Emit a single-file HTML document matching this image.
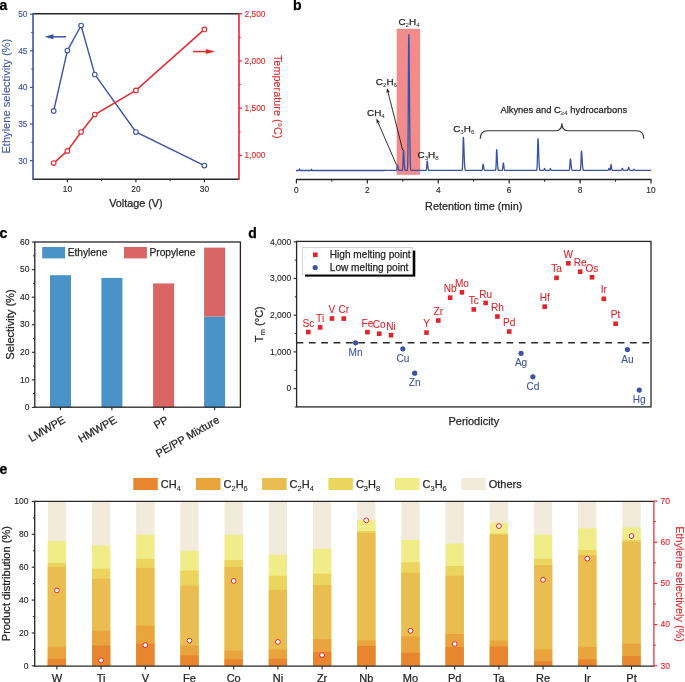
<!DOCTYPE html>
<html><head><meta charset="utf-8"><style>
html,body{margin:0;padding:0;background:#fff;width:685px;height:682px;overflow:hidden}
svg{display:block;will-change:transform;font-family:"Liberation Sans", sans-serif}
</style></head><body>
<svg width="685" height="682" viewBox="0 0 685 682">
<rect width="685" height="682" fill="#fff"/>
<text x="-0.5" y="9.9" font-size="14" font-weight="bold" fill="#000" stroke="#000" stroke-width="0.25">a</text>
<line x1="33" y1="13.8" x2="239" y2="13.8" stroke="#262626" stroke-width="1.5" />
<line x1="33" y1="179.3" x2="239" y2="179.3" stroke="#262626" stroke-width="1.5" />
<line x1="33" y1="13.05" x2="33" y2="180.05" stroke="#3c54a4" stroke-width="1.6" />
<line x1="239" y1="13.05" x2="239" y2="180.05" stroke="#e8262b" stroke-width="1.6" />
<line x1="30" y1="160.6" x2="33" y2="160.6" stroke="#3c54a4" stroke-width="1.2" />
<text transform="translate(27.5,163.6) scale(0.95,1.1)" font-size="8.8" fill="#3c54a4" stroke="#3c54a4" stroke-width="0.12" text-anchor="end">30</text>
<line x1="30" y1="124" x2="33" y2="124" stroke="#3c54a4" stroke-width="1.2" />
<text transform="translate(27.5,127) scale(0.95,1.1)" font-size="8.8" fill="#3c54a4" stroke="#3c54a4" stroke-width="0.12" text-anchor="end">35</text>
<line x1="30" y1="87.4" x2="33" y2="87.4" stroke="#3c54a4" stroke-width="1.2" />
<text transform="translate(27.5,90.4) scale(0.95,1.1)" font-size="8.8" fill="#3c54a4" stroke="#3c54a4" stroke-width="0.12" text-anchor="end">40</text>
<line x1="30" y1="50.8" x2="33" y2="50.8" stroke="#3c54a4" stroke-width="1.2" />
<text transform="translate(27.5,53.8) scale(0.95,1.1)" font-size="8.8" fill="#3c54a4" stroke="#3c54a4" stroke-width="0.12" text-anchor="end">45</text>
<line x1="30" y1="14.2" x2="33" y2="14.2" stroke="#3c54a4" stroke-width="1.2" />
<text transform="translate(27.5,17.2) scale(0.95,1.1)" font-size="8.8" fill="#3c54a4" stroke="#3c54a4" stroke-width="0.12" text-anchor="end">50</text>
<line x1="31.2" y1="142.3" x2="33" y2="142.3" stroke="#3c54a4" stroke-width="1" />
<line x1="31.2" y1="105.7" x2="33" y2="105.7" stroke="#3c54a4" stroke-width="1" />
<line x1="31.2" y1="69.1" x2="33" y2="69.1" stroke="#3c54a4" stroke-width="1" />
<line x1="31.2" y1="32.5" x2="33" y2="32.5" stroke="#3c54a4" stroke-width="1" />
<line x1="239" y1="155.45" x2="242" y2="155.45" stroke="#e8262b" stroke-width="1.2" />
<text transform="translate(244.6,158.45) scale(0.95,1.1)" font-size="8.8" fill="#e8262b" stroke="#e8262b" stroke-width="0.12" text-anchor="start">1,000</text>
<line x1="239" y1="108.2" x2="242" y2="108.2" stroke="#e8262b" stroke-width="1.2" />
<text transform="translate(244.6,111.2) scale(0.95,1.1)" font-size="8.8" fill="#e8262b" stroke="#e8262b" stroke-width="0.12" text-anchor="start">1,500</text>
<line x1="239" y1="60.95" x2="242" y2="60.95" stroke="#e8262b" stroke-width="1.2" />
<text transform="translate(244.6,63.95) scale(0.95,1.1)" font-size="8.8" fill="#e8262b" stroke="#e8262b" stroke-width="0.12" text-anchor="start">2,000</text>
<line x1="239" y1="13.7" x2="242" y2="13.7" stroke="#e8262b" stroke-width="1.2" />
<text transform="translate(244.6,16.7) scale(0.95,1.1)" font-size="8.8" fill="#e8262b" stroke="#e8262b" stroke-width="0.12" text-anchor="start">2,500</text>
<line x1="239" y1="131.82" x2="240.8" y2="131.82" stroke="#e8262b" stroke-width="1" />
<line x1="239" y1="84.58" x2="240.8" y2="84.58" stroke="#e8262b" stroke-width="1" />
<line x1="239" y1="37.33" x2="240.8" y2="37.33" stroke="#e8262b" stroke-width="1" />
<line x1="67.4" y1="179.3" x2="67.4" y2="182.3" stroke="#262626" stroke-width="1.2" />
<text transform="translate(67.4,191.5) scale(0.95,1.1)" font-size="8.8" fill="#262626" stroke="#262626" stroke-width="0.12" text-anchor="middle">10</text>
<line x1="135.9" y1="179.3" x2="135.9" y2="182.3" stroke="#262626" stroke-width="1.2" />
<text transform="translate(135.9,191.5) scale(0.95,1.1)" font-size="8.8" fill="#262626" stroke="#262626" stroke-width="0.12" text-anchor="middle">20</text>
<line x1="204.4" y1="179.3" x2="204.4" y2="182.3" stroke="#262626" stroke-width="1.2" />
<text transform="translate(204.4,191.5) scale(0.95,1.1)" font-size="8.8" fill="#262626" stroke="#262626" stroke-width="0.12" text-anchor="middle">30</text>
<line x1="101.65" y1="179.3" x2="101.65" y2="181.1" stroke="#262626" stroke-width="1" />
<line x1="170.15" y1="179.3" x2="170.15" y2="181.1" stroke="#262626" stroke-width="1" />
<text x="135.9" y="207.1" font-size="10.8" fill="#262626" stroke="#262626" stroke-width="0.25" text-anchor="middle" >Voltage (V)</text>
<text transform="translate(10.0,96.2) rotate(-90)" font-size="11.1" fill="#3c54a4" stroke="#3c54a4" stroke-width="0.08" text-anchor="middle">Ethylene selectivity (%)</text>
<text transform="translate(273.8,96.7) rotate(90)" font-size="10.9" fill="#e8262b" stroke="#e8262b" stroke-width="0.08" text-anchor="middle">Temperature (°C)</text>
<polyline points="53.7,110.9 67.4,50.6 81.1,25.5 94.8,74.5 135.9,132 204.4,165.6" fill="none" stroke="#3c54a4" stroke-width="1.4"/>
<polyline points="53.7,163.1 67.4,150.9 81.1,132 94.8,114.5 135.9,90.4 204.4,29.4" fill="none" stroke="#e8262b" stroke-width="1.45"/>
<circle cx="53.7" cy="110.9" r="2.3" fill="#fff" stroke="#3c54a4" stroke-width="1.1"/>
<circle cx="67.4" cy="50.6" r="2.3" fill="#fff" stroke="#3c54a4" stroke-width="1.1"/>
<circle cx="81.1" cy="25.5" r="2.3" fill="#fff" stroke="#3c54a4" stroke-width="1.1"/>
<circle cx="94.8" cy="74.5" r="2.3" fill="#fff" stroke="#3c54a4" stroke-width="1.1"/>
<circle cx="135.9" cy="132" r="2.3" fill="#fff" stroke="#3c54a4" stroke-width="1.1"/>
<circle cx="204.4" cy="165.6" r="2.3" fill="#fff" stroke="#3c54a4" stroke-width="1.1"/>
<circle cx="53.7" cy="163.1" r="2.3" fill="#fff" stroke="#e8262b" stroke-width="1.1"/>
<circle cx="67.4" cy="150.9" r="2.3" fill="#fff" stroke="#e8262b" stroke-width="1.1"/>
<circle cx="81.1" cy="132" r="2.3" fill="#fff" stroke="#e8262b" stroke-width="1.1"/>
<circle cx="94.8" cy="114.5" r="2.3" fill="#fff" stroke="#e8262b" stroke-width="1.1"/>
<circle cx="135.9" cy="90.4" r="2.3" fill="#fff" stroke="#e8262b" stroke-width="1.1"/>
<circle cx="204.4" cy="29.4" r="2.3" fill="#fff" stroke="#e8262b" stroke-width="1.1"/>
<line x1="52" y1="36.8" x2="66" y2="36.8" stroke="#3c54a4" stroke-width="1.5" />
<polygon points="44.4,36.8 53.4,34.3 53.4,39.3" fill="#3c54a4"/>
<line x1="193" y1="51.6" x2="206" y2="51.6" stroke="#e8262b" stroke-width="1.5" />
<polygon points="215.0,51.6 205.9,49.1 205.9,54.1" fill="#e8262b"/>
<text x="293" y="9.9" font-size="14" font-weight="bold" fill="#000" stroke="#000" stroke-width="0.25">b</text>
<rect x="396.7" y="28.8" width="23.4" height="146" fill="#f28b8c"/>
<polyline points="296,170.5 296.1,170.5 296.2,170.5 296.3,170.5 296.4,170.5 296.5,170.5 296.6,170.5 296.7,170.5 296.8,170.5 296.9,170.5 297,170.5 297.1,170.5 297.2,170.5 297.3,170.5 297.4,170.5 297.5,170.5 297.6,170.5 297.7,170.5 297.8,170.5 297.9,170.5 298,170.5 298.1,170.5 298.2,170.5 298.3,170.5 298.4,170.5 298.5,170.5 298.6,170.5 298.7,170.5 298.8,170.5 298.9,170.5 299,170.48 299.1,170.41 299.2,170.17 299.3,169.71 299.4,169.16 299.5,168.9 299.6,169.03 299.7,169.35 299.8,169.74 299.9,170.08 300,170.3 300.1,170.42 300.2,170.47 300.3,170.49 300.4,170.5 300.5,170.5 300.6,170.5 300.7,170.5 300.8,170.5 300.9,170.5 301,170.5 301.1,170.5 301.2,170.5 301.3,170.5 301.4,170.5 301.5,170.5 301.6,170.5 301.7,170.5 301.8,170.5 301.9,170.5 302,170.5 302.1,170.5 302.2,170.5 302.3,170.5 302.4,170.5 302.5,170.5 302.6,170.5 302.7,170.5 302.8,170.5 302.9,170.5 303,170.5 303.1,170.5 303.2,170.5 303.3,170.5 303.4,170.5 303.5,170.5 303.6,170.5 303.7,170.5 303.8,170.5 303.9,170.5 304,170.5 304.1,170.5 304.2,170.5 304.3,170.5 304.4,170.5 304.5,170.5 304.6,170.5 304.7,170.5 304.8,170.5 304.9,170.5 305,170.5 305.1,170.5 305.2,170.5 305.3,170.5 305.4,170.5 305.5,170.5 305.6,170.5 305.7,170.5 305.8,170.5 305.9,170.5 306,170.5 306.1,170.5 306.2,170.5 306.3,170.5 306.4,170.5 306.5,170.5 306.6,170.5 306.7,170.5 306.8,170.5 306.9,170.5 307,170.5 307.1,170.5 307.2,170.5 307.3,170.5 307.4,170.5 307.5,170.5 307.6,170.5 307.7,170.5 307.8,170.5 307.9,170.5 308,170.5 308.1,170.5 308.2,170.5 308.3,170.5 308.4,170.5 308.5,170.5 308.6,170.5 308.7,170.5 308.8,170.5 308.9,170.5 309,170.5 309.1,170.5 309.2,170.5 309.3,170.5 309.4,170.5 309.5,170.5 309.6,170.5 309.7,170.5 309.8,170.5 309.9,170.5 310,170.5 310.1,170.5 310.2,170.5 310.3,170.5 310.4,170.5 310.5,170.5 310.6,170.5 310.7,170.5 310.8,170.5 310.9,170.49 311,170.48 311.1,170.43 311.2,170.25 311.3,169.9 311.4,169.49 311.5,169.3 311.6,169.39 311.7,169.64 311.8,169.93 311.9,170.18 312,170.35 312.1,170.44 312.2,170.48 312.3,170.49 312.4,170.49 312.5,170.5 312.6,170.5 312.7,170.5 312.8,170.5 312.9,170.5 313,170.5 313.1,170.5 313.2,170.5 313.3,170.5 313.4,170.5 313.5,170.5 313.6,170.5 313.7,170.5 313.8,170.49 313.9,170.49 314,170.49 314.1,170.49 314.2,170.49 314.3,170.49 314.4,170.49 314.5,170.49 314.6,170.49 314.7,170.49 314.8,170.49 314.9,170.49 315,170.49 315.1,170.49 315.2,170.49 315.3,170.49 315.4,170.49 315.5,170.49 315.6,170.49 315.7,170.49 315.8,170.49 315.9,170.49 316,170.49 316.1,170.49 316.2,170.49 316.3,170.49 316.4,170.49 316.5,170.49 316.6,170.49 316.7,170.49 316.8,170.49 316.9,170.49 317,170.49 317.1,170.49 317.2,170.49 317.3,170.49 317.4,170.49 317.5,170.49 317.6,170.49 317.7,170.49 317.8,170.49 317.9,170.49 318,170.49 318.1,170.49 318.2,170.49 318.3,170.49 318.4,170.49 318.5,170.49 318.6,170.49 318.7,170.49 318.8,170.49 318.9,170.49 319,170.49 319.1,170.49 319.2,170.49 319.3,170.49 319.4,170.49 319.5,170.49 319.6,170.49 319.7,170.49 319.8,170.49 319.9,170.49 320,170.49 320.1,170.49 320.2,170.49 320.3,170.49 320.4,170.49 320.5,170.49 320.6,170.49 320.7,170.49 320.8,170.49 320.9,170.49 321,170.49 321.1,170.49 321.2,170.49 321.3,170.49 321.4,170.49 321.5,170.49 321.6,170.49 321.7,170.49 321.8,170.49 321.9,170.49 322,170.49 322.1,170.49 322.2,170.49 322.3,170.49 322.4,170.49 322.5,170.49 322.6,170.49 322.7,170.49 322.8,170.49 322.9,170.49 323,170.49 323.1,170.49 323.2,170.49 323.3,170.49 323.4,170.49 323.5,170.49 323.6,170.49 323.7,170.49 323.8,170.49 323.9,170.49 324,170.49 324.1,170.49 324.2,170.49 324.3,170.49 324.4,170.49 324.5,170.49 324.6,170.49 324.7,170.49 324.8,170.49 324.9,170.49 325,170.49 325.1,170.49 325.2,170.49 325.3,170.49 325.4,170.49 325.5,170.49 325.6,170.49 325.7,170.49 325.8,170.49 325.9,170.49 326,170.49 326.1,170.49 326.2,170.49 326.3,170.49 326.4,170.49 326.5,170.49 326.6,170.49 326.7,170.49 326.8,170.49 326.9,170.49 327,170.49 327.1,170.49 327.2,170.49 327.3,170.49 327.4,170.49 327.5,170.49 327.6,170.49 327.7,170.49 327.8,170.49 327.9,170.49 328,170.49 328.1,170.49 328.2,170.49 328.3,170.49 328.4,170.49 328.5,170.49 328.6,170.49 328.7,170.49 328.8,170.49 328.9,170.49 329,170.49 329.1,170.49 329.2,170.49 329.3,170.49 329.4,170.49 329.5,170.49 329.6,170.49 329.7,170.49 329.8,170.49 329.9,170.49 330,170.49 330.1,170.49 330.2,170.49 330.3,170.49 330.4,170.49 330.5,170.49 330.6,170.49 330.7,170.49 330.8,170.49 330.9,170.49 331,170.49 331.1,170.49 331.2,170.49 331.3,170.49 331.4,170.49 331.5,170.49 331.6,170.49 331.7,170.49 331.8,170.49 331.9,170.49 332,170.49 332.1,170.49 332.2,170.49 332.3,170.49 332.4,170.49 332.5,170.49 332.6,170.49 332.7,170.49 332.8,170.49 332.9,170.49 333,170.49 333.1,170.49 333.2,170.49 333.3,170.49 333.4,170.49 333.5,170.49 333.6,170.49 333.7,170.49 333.8,170.49 333.9,170.49 334,170.49 334.1,170.49 334.2,170.49 334.3,170.49 334.4,170.49 334.5,170.49 334.6,170.49 334.7,170.49 334.8,170.49 334.9,170.49 335,170.49 335.1,170.49 335.2,170.49 335.3,170.49 335.4,170.49 335.5,170.49 335.6,170.49 335.7,170.49 335.8,170.49 335.9,170.49 336,170.49 336.1,170.49 336.2,170.49 336.3,170.49 336.4,170.49 336.5,170.49 336.6,170.49 336.7,170.49 336.8,170.49 336.9,170.49 337,170.49 337.1,170.49 337.2,170.49 337.3,170.49 337.4,170.49 337.5,170.49 337.6,170.49 337.7,170.49 337.8,170.49 337.9,170.49 338,170.49 338.1,170.49 338.2,170.49 338.3,170.49 338.4,170.49 338.5,170.49 338.6,170.49 338.7,170.49 338.8,170.49 338.9,170.49 339,170.49 339.1,170.49 339.2,170.49 339.3,170.49 339.4,170.49 339.5,170.49 339.6,170.49 339.7,170.49 339.8,170.49 339.9,170.49 340,170.49 340.1,170.49 340.2,170.49 340.3,170.49 340.4,170.49 340.5,170.49 340.6,170.49 340.7,170.49 340.8,170.49 340.9,170.49 341,170.49 341.1,170.49 341.2,170.49 341.3,170.49 341.4,170.49 341.5,170.49 341.6,170.49 341.7,170.49 341.8,170.49 341.9,170.49 342,170.49 342.1,170.49 342.2,170.49 342.3,170.49 342.4,170.49 342.5,170.49 342.6,170.49 342.7,170.49 342.8,170.49 342.9,170.49 343,170.49 343.1,170.49 343.2,170.49 343.3,170.49 343.4,170.49 343.5,170.49 343.6,170.49 343.7,170.49 343.8,170.49 343.9,170.49 344,170.49 344.1,170.49 344.2,170.49 344.3,170.49 344.4,170.49 344.5,170.49 344.6,170.49 344.7,170.49 344.8,170.49 344.9,170.49 345,170.49 345.1,170.49 345.2,170.49 345.3,170.49 345.4,170.49 345.5,170.49 345.6,170.49 345.7,170.49 345.8,170.49 345.9,170.49 346,170.49 346.1,170.49 346.2,170.49 346.3,170.49 346.4,170.49 346.5,170.49 346.6,170.49 346.7,170.49 346.8,170.49 346.9,170.49 347,170.49 347.1,170.49 347.2,170.49 347.3,170.49 347.4,170.49 347.5,170.49 347.6,170.49 347.7,170.49 347.8,170.49 347.9,170.49 348,170.49 348.1,170.49 348.2,170.49 348.3,170.49 348.4,170.49 348.5,170.49 348.6,170.49 348.7,170.49 348.8,170.49 348.9,170.49 349,170.49 349.1,170.49 349.2,170.49 349.3,170.48 349.4,170.48 349.5,170.48 349.6,170.48 349.7,170.48 349.8,170.48 349.9,170.48 350,170.48 350.1,170.48 350.2,170.48 350.3,170.48 350.4,170.48 350.5,170.48 350.6,170.48 350.7,170.48 350.8,170.48 350.9,170.48 351,170.48 351.1,170.48 351.2,170.48 351.3,170.48 351.4,170.48 351.5,170.48 351.6,170.48 351.7,170.48 351.8,170.48 351.9,170.48 352,170.48 352.1,170.48 352.2,170.48 352.3,170.48 352.4,170.48 352.5,170.48 352.6,170.48 352.7,170.48 352.8,170.48 352.9,170.48 353,170.48 353.1,170.48 353.2,170.48 353.3,170.48 353.4,170.48 353.5,170.48 353.6,170.48 353.7,170.48 353.8,170.48 353.9,170.48 354,170.48 354.1,170.48 354.2,170.48 354.3,170.48 354.4,170.48 354.5,170.48 354.6,170.48 354.7,170.48 354.8,170.48 354.9,170.48 355,170.48 355.1,170.48 355.2,170.48 355.3,170.48 355.4,170.48 355.5,170.48 355.6,170.48 355.7,170.48 355.8,170.48 355.9,170.48 356,170.48 356.1,170.48 356.2,170.48 356.3,170.48 356.4,170.48 356.5,170.48 356.6,170.48 356.7,170.48 356.8,170.48 356.9,170.48 357,170.48 357.1,170.48 357.2,170.48 357.3,170.48 357.4,170.48 357.5,170.48 357.6,170.48 357.7,170.48 357.8,170.48 357.9,170.48 358,170.48 358.1,170.48 358.2,170.48 358.3,170.48 358.4,170.48 358.5,170.48 358.6,170.48 358.7,170.48 358.8,170.48 358.9,170.48 359,170.48 359.1,170.48 359.2,170.48 359.3,170.48 359.4,170.48 359.5,170.48 359.6,170.48 359.7,170.48 359.8,170.48 359.9,170.48 360,170.48 360.1,170.48 360.2,170.48 360.3,170.48 360.4,170.48 360.5,170.48 360.6,170.48 360.7,170.48 360.8,170.48 360.9,170.48 361,170.48 361.1,170.48 361.2,170.48 361.3,170.48 361.4,170.48 361.5,170.48 361.6,170.48 361.7,170.48 361.8,170.48 361.9,170.48 362,170.48 362.1,170.48 362.2,170.48 362.3,170.48 362.4,170.48 362.5,170.48 362.6,170.48 362.7,170.48 362.8,170.48 362.9,170.48 363,170.48 363.1,170.48 363.2,170.48 363.3,170.48 363.4,170.48 363.5,170.48 363.6,170.48 363.7,170.48 363.8,170.48 363.9,170.48 364,170.48 364.1,170.48 364.2,170.48 364.3,170.48 364.4,170.48 364.5,170.48 364.6,170.48 364.7,170.48 364.8,170.48 364.9,170.48 365,170.48 365.1,170.48 365.2,170.48 365.3,170.48 365.4,170.48 365.5,170.48 365.6,170.48 365.7,170.48 365.8,170.48 365.9,170.48 366,170.48 366.1,170.48 366.2,170.48 366.3,170.48 366.4,170.48 366.5,170.48 366.6,170.48 366.7,170.48 366.8,170.48 366.9,170.48 367,170.48 367.1,170.48 367.2,170.48 367.3,170.48 367.4,170.48 367.5,170.48 367.6,170.48 367.7,170.48 367.8,170.48 367.9,170.48 368,170.48 368.1,170.48 368.2,170.48 368.3,170.48 368.4,170.48 368.5,170.48 368.6,170.48 368.7,170.48 368.8,170.48 368.9,170.48 369,170.48 369.1,170.48 369.2,170.48 369.3,170.48 369.4,170.48 369.5,170.48 369.6,170.48 369.7,170.48 369.8,170.48 369.9,170.48 370,170.48 370.1,170.48 370.2,170.48 370.3,170.48 370.4,170.48 370.5,170.48 370.6,170.48 370.7,170.48 370.8,170.48 370.9,170.48 371,170.48 371.1,170.48 371.2,170.48 371.3,170.48 371.4,170.48 371.5,170.48 371.6,170.48 371.7,170.48 371.8,170.48 371.9,170.48 372,170.48 372.1,170.48 372.2,170.48 372.3,170.48 372.4,170.48 372.5,170.48 372.6,170.48 372.7,170.48 372.8,170.48 372.9,170.48 373,170.48 373.1,170.48 373.2,170.48 373.3,170.48 373.4,170.48 373.5,170.48 373.6,170.48 373.7,170.48 373.8,170.48 373.9,170.48 374,170.48 374.1,170.48 374.2,170.48 374.3,170.48 374.4,170.48 374.5,170.48 374.6,170.48 374.7,170.48 374.8,170.48 374.9,170.48 375,170.48 375.1,170.48 375.2,170.48 375.3,170.48 375.4,170.48 375.5,170.48 375.6,170.48 375.7,170.48 375.8,170.48 375.9,170.48 376,170.48 376.1,170.48 376.2,170.48 376.3,170.48 376.4,170.48 376.5,170.48 376.6,170.48 376.7,170.48 376.8,170.48 376.9,170.48 377,170.48 377.1,170.48 377.2,170.48 377.3,170.48 377.4,170.48 377.5,170.48 377.6,170.48 377.7,170.48 377.8,170.48 377.9,170.48 378,170.48 378.1,170.48 378.2,170.48 378.3,170.48 378.4,170.48 378.5,170.48 378.6,170.48 378.7,170.48 378.8,170.48 378.9,170.48 379,170.48 379.1,170.48 379.2,170.48 379.3,170.48 379.4,170.48 379.5,170.48 379.6,170.48 379.7,170.48 379.8,170.48 379.9,170.48 380,170.48 380.1,170.48 380.2,170.48 380.3,170.48 380.4,170.48 380.5,170.48 380.6,170.48 380.7,170.48 380.8,170.48 380.9,170.48 381,170.48 381.1,170.48 381.2,170.48 381.3,170.48 381.4,170.48 381.5,170.48 381.6,170.48 381.7,170.48 381.8,170.48 381.9,170.48 382,170.48 382.1,170.48 382.2,170.48 382.3,170.48 382.4,170.48 382.5,170.48 382.6,170.48 382.7,170.48 382.8,170.48 382.9,170.48 383,170.48 383.1,170.48 383.2,170.48 383.3,170.48 383.4,170.48 383.5,170.48 383.6,170.48 383.7,170.48 383.8,170.48 383.9,170.48 384,170.48 384.1,170.48 384.2,170.48 384.3,170.48 384.4,170.48 384.5,170.48 384.6,170.48 384.7,170.48 384.8,170.47 384.9,170.47 385,170.47 385.1,170.47 385.2,170.47 385.3,170.47 385.4,170.47 385.5,170.47 385.6,170.47 385.7,170.47 385.8,170.47 385.9,170.47 386,170.47 386.1,170.47 386.2,170.47 386.3,170.47 386.4,170.47 386.5,170.47 386.6,170.47 386.7,170.47 386.8,170.47 386.9,170.47 387,170.47 387.1,170.47 387.2,170.47 387.3,170.47 387.4,170.47 387.5,170.47 387.6,170.47 387.7,170.47 387.8,170.47 387.9,170.47 388,170.47 388.1,170.47 388.2,170.47 388.3,170.47 388.4,170.47 388.5,170.47 388.6,170.47 388.7,170.47 388.8,170.47 388.9,170.47 389,170.47 389.1,170.47 389.2,170.47 389.3,170.47 389.4,170.47 389.5,170.47 389.6,170.47 389.7,170.47 389.8,170.47 389.9,170.47 390,170.47 390.1,170.47 390.2,170.47 390.3,170.47 390.4,170.47 390.5,170.47 390.6,170.47 390.7,170.47 390.8,170.47 390.9,170.47 391,170.47 391.1,170.47 391.2,170.47 391.3,170.47 391.4,170.47 391.5,170.47 391.6,170.47 391.7,170.47 391.8,170.47 391.9,170.47 392,170.47 392.1,170.47 392.2,170.47 392.3,170.47 392.4,170.47 392.5,170.47 392.6,170.47 392.7,170.47 392.8,170.47 392.9,170.47 393,170.47 393.1,170.47 393.2,170.47 393.3,170.47 393.4,170.47 393.5,170.47 393.6,170.47 393.7,170.47 393.8,170.47 393.9,170.47 394,170.47 394.1,170.47 394.2,170.47 394.3,170.47 394.4,170.47 394.5,170.47 394.6,170.47 394.7,170.47 394.8,170.47 394.9,170.47 395,170.47 395.1,170.47 395.2,170.47 395.3,170.47 395.4,170.47 395.5,170.47 395.6,170.47 395.7,170.47 395.8,170.47 395.9,170.47 396,170.46 396.1,170.45 396.2,170.43 396.3,170.38 396.4,170.29 396.5,170.13 396.6,169.86 396.7,169.45 396.8,168.88 396.9,168.16 397,167.33 397.1,166.49 397.2,165.76 397.3,165.25 397.4,165.07 397.5,165.16 397.6,165.41 397.7,165.79 397.8,166.29 397.9,166.85 398,167.43 398.1,168 398.2,168.52 398.3,168.99 398.4,169.37 398.5,169.69 398.6,169.93 398.7,170.11 398.8,170.23 398.9,170.32 399,170.38 399.1,170.42 399.2,170.44 399.3,170.45 399.4,170.46 399.5,170.47 399.6,170.47 399.7,170.47 399.8,170.47 399.9,170.47 400,170.47 400.1,170.47 400.2,170.47 400.3,170.47 400.4,170.47 400.5,170.47 400.6,170.47 400.7,170.47 400.8,170.47 400.9,170.47 401,170.47 401.1,170.47 401.2,170.47 401.3,170.47 401.4,170.47 401.5,170.47 401.6,170.47 401.7,170.47 401.8,170.47 401.9,170.47 402,170.46 402.1,170.44 402.2,170.4 402.3,170.32 402.4,170.13 402.5,169.78 402.6,169.16 402.7,168.14 402.8,166.6 402.9,164.45 403,161.73 403.1,158.61 403.2,155.44 403.3,152.66 403.4,150.75 403.5,150.07 403.6,150.39 403.7,151.33 403.8,152.8 403.9,154.66 404,156.78 404.1,158.98 404.2,161.13 404.3,163.12 404.4,164.86 404.5,166.33 404.6,167.51 404.7,168.42 404.8,169.09 404.9,169.57 405,169.9 405.1,170.12 405.2,170.27 405.3,170.35 405.4,170.4 405.5,170.43 405.6,170.45 405.7,170.46 405.8,170.46 405.9,170.47 406,170.47 406.1,170.47 406.2,170.47 406.3,170.47 406.4,170.47 406.5,170.47 406.6,170.47 406.7,170.47 406.8,170.47 406.9,170.46 407,170.45 407.1,170.41 407.2,170.33 407.3,170.14 407.4,169.76 407.5,169 407.6,167.6 407.7,165.16 407.8,161.14 407.9,154.95 408,146 408.1,133.9 408.2,118.67 408.3,100.91 408.4,81.95 408.5,63.69 408.6,48.38 408.7,38.16 408.8,34.57 408.9,36.27 409,41.25 409.1,49.13 409.2,59.38 409.3,71.28 409.4,84.12 409.5,97.16 409.6,109.78 409.7,121.48 409.8,131.91 409.9,140.87 410,148.32 410.1,154.3 410.2,158.96 410.3,162.48 410.4,165.06 410.5,166.9 410.6,168.17 410.7,169.03 410.8,169.59 410.9,169.94 411,170.16 411.1,170.29 411.2,170.37 411.3,170.42 411.4,170.44 411.5,170.45 411.6,170.46 411.7,170.46 411.8,170.47 411.9,170.47 412,170.47 412.1,170.47 412.2,170.47 412.3,170.47 412.4,170.47 412.5,170.47 412.6,170.47 412.7,170.47 412.8,170.47 412.9,170.47 413,170.47 413.1,170.47 413.2,170.47 413.3,170.47 413.4,170.47 413.5,170.47 413.6,170.47 413.7,170.47 413.8,170.47 413.9,170.47 414,170.47 414.1,170.47 414.2,170.47 414.3,170.47 414.4,170.47 414.5,170.47 414.6,170.47 414.7,170.47 414.8,170.47 414.9,170.47 415,170.47 415.1,170.47 415.2,170.47 415.3,170.47 415.4,170.47 415.5,170.47 415.6,170.47 415.7,170.47 415.8,170.47 415.9,170.47 416,170.47 416.1,170.47 416.2,170.47 416.3,170.47 416.4,170.47 416.5,170.47 416.6,170.47 416.7,170.47 416.8,170.47 416.9,170.47 417,170.47 417.1,170.47 417.2,170.47 417.3,170.47 417.4,170.47 417.5,170.47 417.6,170.47 417.7,170.47 417.8,170.47 417.9,170.47 418,170.47 418.1,170.47 418.2,170.47 418.3,170.47 418.4,170.47 418.5,170.47 418.6,170.47 418.7,170.47 418.8,170.47 418.9,170.47 419,170.47 419.1,170.47 419.2,170.47 419.3,170.47 419.4,170.47 419.5,170.47 419.6,170.47 419.7,170.47 419.8,170.47 419.9,170.47 420,170.47 420.1,170.47 420.2,170.47 420.3,170.46 420.4,170.46 420.5,170.46 420.6,170.46 420.7,170.46 420.8,170.46 420.9,170.46 421,170.46 421.1,170.46 421.2,170.46 421.3,170.46 421.4,170.46 421.5,170.46 421.6,170.46 421.7,170.46 421.8,170.46 421.9,170.46 422,170.46 422.1,170.46 422.2,170.46 422.3,170.46 422.4,170.46 422.5,170.46 422.6,170.46 422.7,170.46 422.8,170.46 422.9,170.46 423,170.46 423.1,170.46 423.2,170.46 423.3,170.46 423.4,170.46 423.5,170.46 423.6,170.46 423.7,170.46 423.8,170.46 423.9,170.46 424,170.46 424.1,170.46 424.2,170.46 424.3,170.46 424.4,170.46 424.5,170.46 424.6,170.46 424.7,170.46 424.8,170.46 424.9,170.46 425,170.46 425.1,170.46 425.2,170.46 425.3,170.46 425.4,170.46 425.5,170.46 425.6,170.46 425.7,170.46 425.8,170.45 425.9,170.43 426,170.39 426.1,170.31 426.2,170.15 426.3,169.86 426.4,169.39 426.5,168.68 426.6,167.69 426.7,166.44 426.8,165 426.9,163.54 427,162.26 427.1,161.38 427.2,161.06 427.3,161.21 427.4,161.64 427.5,162.32 427.6,163.18 427.7,164.15 427.8,165.17 427.9,166.16 428,167.07 428.1,167.88 428.2,168.55 428.3,169.1 428.4,169.52 428.5,169.83 428.6,170.05 428.7,170.2 428.8,170.3 428.9,170.37 429,170.41 429.1,170.43 429.2,170.45 429.3,170.45 429.4,170.46 429.5,170.46 429.6,170.46 429.7,170.46 429.8,170.46 429.9,170.46 430,170.46 430.1,170.46 430.2,170.46 430.3,170.46 430.4,170.46 430.5,170.46 430.6,170.46 430.7,170.46 430.8,170.46 430.9,170.46 431,170.46 431.1,170.46 431.2,170.46 431.3,170.46 431.4,170.46 431.5,170.46 431.6,170.46 431.7,170.46 431.8,170.46 431.9,170.46 432,170.46 432.1,170.46 432.2,170.46 432.3,170.46 432.4,170.46 432.5,170.46 432.6,170.46 432.7,170.46 432.8,170.46 432.9,170.46 433,170.46 433.1,170.46 433.2,170.46 433.3,170.46 433.4,170.46 433.5,170.46 433.6,170.46 433.7,170.46 433.8,170.46 433.9,170.46 434,170.46 434.1,170.46 434.2,170.46 434.3,170.46 434.4,170.46 434.5,170.46 434.6,170.46 434.7,170.46 434.8,170.46 434.9,170.46 435,170.46 435.1,170.46 435.2,170.46 435.3,170.46 435.4,170.46 435.5,170.46 435.6,170.46 435.7,170.46 435.8,170.46 435.9,170.46 436,170.46 436.1,170.46 436.2,170.46 436.3,170.46 436.4,170.46 436.5,170.46 436.6,170.46 436.7,170.46 436.8,170.46 436.9,170.46 437,170.46 437.1,170.46 437.2,170.46 437.3,170.46 437.4,170.46 437.5,170.46 437.6,170.46 437.7,170.46 437.8,170.46 437.9,170.46 438,170.46 438.1,170.46 438.2,170.46 438.3,170.46 438.4,170.46 438.5,170.46 438.6,170.46 438.7,170.46 438.8,170.46 438.9,170.46 439,170.46 439.1,170.46 439.2,170.46 439.3,170.46 439.4,170.46 439.5,170.46 439.6,170.46 439.7,170.46 439.8,170.46 439.9,170.46 440,170.46 440.1,170.46 440.2,170.46 440.3,170.46 440.4,170.46 440.5,170.46 440.6,170.46 440.7,170.46 440.8,170.46 440.9,170.46 441,170.46 441.1,170.46 441.2,170.46 441.3,170.46 441.4,170.46 441.5,170.46 441.6,170.46 441.7,170.46 441.8,170.46 441.9,170.46 442,170.46 442.1,170.46 442.2,170.46 442.3,170.46 442.4,170.46 442.5,170.46 442.6,170.46 442.7,170.46 442.8,170.46 442.9,170.46 443,170.46 443.1,170.46 443.2,170.46 443.3,170.46 443.4,170.46 443.5,170.46 443.6,170.46 443.7,170.46 443.8,170.46 443.9,170.46 444,170.46 444.1,170.46 444.2,170.46 444.3,170.46 444.4,170.46 444.5,170.46 444.6,170.46 444.7,170.46 444.8,170.46 444.9,170.46 445,170.46 445.1,170.46 445.2,170.46 445.3,170.46 445.4,170.46 445.5,170.46 445.6,170.46 445.7,170.46 445.8,170.46 445.9,170.46 446,170.46 446.1,170.46 446.2,170.46 446.3,170.46 446.4,170.46 446.5,170.46 446.6,170.46 446.7,170.46 446.8,170.46 446.9,170.46 447,170.46 447.1,170.46 447.2,170.46 447.3,170.46 447.4,170.46 447.5,170.46 447.6,170.46 447.7,170.46 447.8,170.46 447.9,170.46 448,170.46 448.1,170.46 448.2,170.46 448.3,170.46 448.4,170.46 448.5,170.46 448.6,170.46 448.7,170.46 448.8,170.46 448.9,170.46 449,170.46 449.1,170.46 449.2,170.46 449.3,170.46 449.4,170.46 449.5,170.46 449.6,170.46 449.7,170.46 449.8,170.46 449.9,170.46 450,170.46 450.1,170.46 450.2,170.46 450.3,170.46 450.4,170.46 450.5,170.46 450.6,170.46 450.7,170.46 450.8,170.46 450.9,170.46 451,170.46 451.1,170.46 451.2,170.46 451.3,170.46 451.4,170.46 451.5,170.46 451.6,170.46 451.7,170.46 451.8,170.46 451.9,170.46 452,170.46 452.1,170.46 452.2,170.46 452.3,170.46 452.4,170.46 452.5,170.46 452.6,170.46 452.7,170.46 452.8,170.46 452.9,170.46 453,170.46 453.1,170.46 453.2,170.46 453.3,170.46 453.4,170.46 453.5,170.46 453.6,170.46 453.7,170.46 453.8,170.46 453.9,170.46 454,170.46 454.1,170.46 454.2,170.46 454.3,170.46 454.4,170.46 454.5,170.46 454.6,170.46 454.7,170.46 454.8,170.46 454.9,170.46 455,170.46 455.1,170.46 455.2,170.46 455.3,170.46 455.4,170.46 455.5,170.46 455.6,170.46 455.7,170.46 455.8,170.45 455.9,170.45 456,170.45 456.1,170.45 456.2,170.45 456.3,170.45 456.4,170.45 456.5,170.45 456.6,170.45 456.7,170.45 456.8,170.45 456.9,170.45 457,170.45 457.1,170.45 457.2,170.45 457.3,170.45 457.4,170.45 457.5,170.45 457.6,170.45 457.7,170.45 457.8,170.45 457.9,170.45 458,170.45 458.1,170.45 458.2,170.45 458.3,170.45 458.4,170.45 458.5,170.45 458.6,170.45 458.7,170.45 458.8,170.45 458.9,170.45 459,170.45 459.1,170.45 459.2,170.45 459.3,170.45 459.4,170.45 459.5,170.45 459.6,170.45 459.7,170.45 459.8,170.45 459.9,170.45 460,170.45 460.1,170.45 460.2,170.45 460.3,170.45 460.4,170.45 460.5,170.45 460.6,170.45 460.7,170.45 460.8,170.45 460.9,170.45 461,170.45 461.1,170.45 461.2,170.45 461.3,170.45 461.4,170.45 461.5,170.45 461.6,170.45 461.7,170.44 461.8,170.42 461.9,170.37 462,170.28 462.1,170.1 462.2,169.76 462.3,169.16 462.4,168.19 462.5,166.69 462.6,164.51 462.7,161.57 462.8,157.87 462.9,153.56 463,148.96 463.1,144.52 463.2,140.81 463.3,138.33 463.4,137.45 463.5,137.87 463.6,139.07 463.7,140.99 463.8,143.48 463.9,146.37 464,149.48 464.1,152.65 464.2,155.72 464.3,158.56 464.4,161.09 464.5,163.27 464.6,165.07 464.7,166.53 464.8,167.66 464.9,168.51 465,169.14 465.1,169.59 465.2,169.9 465.3,170.1 465.4,170.24 465.5,170.32 465.6,170.38 465.7,170.41 465.8,170.43 465.9,170.44 466,170.45 466.1,170.45 466.2,170.45 466.3,170.45 466.4,170.45 466.5,170.45 466.6,170.45 466.7,170.45 466.8,170.45 466.9,170.45 467,170.45 467.1,170.45 467.2,170.45 467.3,170.45 467.4,170.45 467.5,170.45 467.6,170.45 467.7,170.45 467.8,170.45 467.9,170.45 468,170.45 468.1,170.45 468.2,170.45 468.3,170.45 468.4,170.45 468.5,170.45 468.6,170.45 468.7,170.45 468.8,170.45 468.9,170.45 469,170.45 469.1,170.45 469.2,170.45 469.3,170.45 469.4,170.45 469.5,170.45 469.6,170.45 469.7,170.45 469.8,170.45 469.9,170.45 470,170.45 470.1,170.45 470.2,170.45 470.3,170.45 470.4,170.45 470.5,170.45 470.6,170.45 470.7,170.45 470.8,170.45 470.9,170.45 471,170.45 471.1,170.45 471.2,170.45 471.3,170.45 471.4,170.45 471.5,170.45 471.6,170.45 471.7,170.45 471.8,170.45 471.9,170.45 472,170.45 472.1,170.45 472.2,170.45 472.3,170.45 472.4,170.45 472.5,170.45 472.6,170.45 472.7,170.45 472.8,170.45 472.9,170.45 473,170.45 473.1,170.45 473.2,170.45 473.3,170.45 473.4,170.45 473.5,170.45 473.6,170.45 473.7,170.45 473.8,170.45 473.9,170.45 474,170.45 474.1,170.45 474.2,170.45 474.3,170.45 474.4,170.45 474.5,170.45 474.6,170.45 474.7,170.45 474.8,170.45 474.9,170.45 475,170.45 475.1,170.45 475.2,170.45 475.3,170.45 475.4,170.45 475.5,170.45 475.6,170.45 475.7,170.45 475.8,170.45 475.9,170.45 476,170.45 476.1,170.45 476.2,170.45 476.3,170.45 476.4,170.45 476.5,170.45 476.6,170.45 476.7,170.45 476.8,170.45 476.9,170.45 477,170.45 477.1,170.45 477.2,170.45 477.3,170.45 477.4,170.45 477.5,170.45 477.6,170.45 477.7,170.45 477.8,170.45 477.9,170.45 478,170.45 478.1,170.45 478.2,170.45 478.3,170.45 478.4,170.45 478.5,170.45 478.6,170.45 478.7,170.45 478.8,170.45 478.9,170.45 479,170.45 479.1,170.45 479.2,170.45 479.3,170.45 479.4,170.45 479.5,170.45 479.6,170.45 479.7,170.45 479.8,170.45 479.9,170.45 480,170.45 480.1,170.45 480.2,170.45 480.3,170.45 480.4,170.45 480.5,170.45 480.6,170.45 480.7,170.45 480.8,170.45 480.9,170.45 481,170.45 481.1,170.45 481.2,170.45 481.3,170.45 481.4,170.45 481.5,170.45 481.6,170.44 481.7,170.44 481.8,170.43 481.9,170.4 482,170.35 482.1,170.24 482.2,170.05 482.3,169.74 482.4,169.27 482.5,168.62 482.6,167.79 482.7,166.84 482.8,165.88 482.9,165.03 483,164.45 483.1,164.25 483.2,164.35 483.3,164.63 483.4,165.08 483.5,165.64 483.6,166.29 483.7,166.95 483.8,167.61 483.9,168.21 484,168.74 484.1,169.19 484.2,169.55 484.3,169.82 484.4,170.03 484.5,170.17 484.6,170.28 484.7,170.34 484.8,170.38 484.9,170.41 485,170.43 485.1,170.44 485.2,170.44 485.3,170.44 485.4,170.45 485.5,170.45 485.6,170.45 485.7,170.45 485.8,170.45 485.9,170.45 486,170.45 486.1,170.45 486.2,170.45 486.3,170.45 486.4,170.45 486.5,170.45 486.6,170.45 486.7,170.45 486.8,170.45 486.9,170.45 487,170.45 487.1,170.45 487.2,170.45 487.3,170.45 487.4,170.45 487.5,170.45 487.6,170.45 487.7,170.45 487.8,170.45 487.9,170.45 488,170.45 488.1,170.45 488.2,170.45 488.3,170.45 488.4,170.45 488.5,170.45 488.6,170.45 488.7,170.45 488.8,170.45 488.9,170.45 489,170.45 489.1,170.45 489.2,170.45 489.3,170.45 489.4,170.45 489.5,170.45 489.6,170.45 489.7,170.45 489.8,170.45 489.9,170.45 490,170.45 490.1,170.45 490.2,170.45 490.3,170.45 490.4,170.45 490.5,170.45 490.6,170.45 490.7,170.45 490.8,170.45 490.9,170.45 491,170.45 491.1,170.45 491.2,170.45 491.3,170.44 491.4,170.44 491.5,170.44 491.6,170.44 491.7,170.44 491.8,170.44 491.9,170.44 492,170.44 492.1,170.44 492.2,170.44 492.3,170.44 492.4,170.44 492.5,170.44 492.6,170.44 492.7,170.44 492.8,170.44 492.9,170.44 493,170.44 493.1,170.44 493.2,170.44 493.3,170.44 493.4,170.44 493.5,170.44 493.6,170.44 493.7,170.44 493.8,170.44 493.9,170.44 494,170.44 494.1,170.44 494.2,170.44 494.3,170.44 494.4,170.44 494.5,170.44 494.6,170.44 494.7,170.44 494.8,170.44 494.9,170.44 495,170.44 495.1,170.44 495.2,170.43 495.3,170.42 495.4,170.38 495.5,170.29 495.6,170.1 495.7,169.75 495.8,169.12 495.9,168.08 496,166.51 496.1,164.34 496.2,161.58 496.3,158.41 496.4,155.19 496.5,152.37 496.6,150.43 496.7,149.74 496.8,150.07 496.9,151.02 497,152.51 497.1,154.4 497.2,156.55 497.3,158.78 497.4,160.97 497.5,162.98 497.6,164.75 497.7,166.24 497.8,167.44 497.9,168.36 498,169.04 498.1,169.53 498.2,169.87 498.3,170.09 498.4,170.24 498.5,170.32 498.6,170.38 498.7,170.41 498.8,170.42 498.9,170.43 499,170.44 499.1,170.44 499.2,170.44 499.3,170.44 499.4,170.44 499.5,170.44 499.6,170.44 499.7,170.44 499.8,170.44 499.9,170.44 500,170.44 500.1,170.44 500.2,170.44 500.3,170.44 500.4,170.44 500.5,170.44 500.6,170.44 500.7,170.44 500.8,170.44 500.9,170.44 501,170.44 501.1,170.44 501.2,170.44 501.3,170.44 501.4,170.44 501.5,170.44 501.6,170.44 501.7,170.44 501.8,170.44 501.9,170.43 502,170.42 502.1,170.39 502.2,170.32 502.3,170.19 502.4,169.97 502.5,169.6 502.6,169.04 502.7,168.26 502.8,167.27 502.9,166.14 503,164.99 503.1,163.98 503.2,163.29 503.3,163.04 503.4,163.16 503.5,163.5 503.6,164.03 503.7,164.71 503.8,165.47 503.9,166.27 504,167.05 504.1,167.77 504.2,168.41 504.3,168.94 504.4,169.37 504.5,169.7 504.6,169.94 504.7,170.12 504.8,170.24 504.9,170.32 505,170.37 505.1,170.4 505.2,170.42 505.3,170.43 505.4,170.43 505.5,170.44 505.6,170.44 505.7,170.44 505.8,170.44 505.9,170.44 506,170.44 506.1,170.44 506.2,170.44 506.3,170.44 506.4,170.44 506.5,170.44 506.6,170.44 506.7,170.44 506.8,170.44 506.9,170.44 507,170.44 507.1,170.44 507.2,170.44 507.3,170.44 507.4,170.44 507.5,170.44 507.6,170.44 507.7,170.44 507.8,170.44 507.9,170.44 508,170.44 508.1,170.44 508.2,170.44 508.3,170.44 508.4,170.44 508.5,170.44 508.6,170.44 508.7,170.44 508.8,170.44 508.9,170.44 509,170.44 509.1,170.44 509.2,170.44 509.3,170.44 509.4,170.44 509.5,170.44 509.6,170.44 509.7,170.44 509.8,170.44 509.9,170.44 510,170.44 510.1,170.44 510.2,170.44 510.3,170.44 510.4,170.44 510.5,170.44 510.6,170.44 510.7,170.44 510.8,170.44 510.9,170.44 511,170.44 511.1,170.44 511.2,170.44 511.3,170.44 511.4,170.44 511.5,170.44 511.6,170.44 511.7,170.44 511.8,170.44 511.9,170.44 512,170.44 512.1,170.44 512.2,170.44 512.3,170.44 512.4,170.44 512.5,170.44 512.6,170.44 512.7,170.44 512.8,170.44 512.9,170.44 513,170.44 513.1,170.44 513.2,170.44 513.3,170.44 513.4,170.44 513.5,170.44 513.6,170.44 513.7,170.44 513.8,170.44 513.9,170.44 514,170.44 514.1,170.44 514.2,170.44 514.3,170.44 514.4,170.44 514.5,170.44 514.6,170.44 514.7,170.44 514.8,170.44 514.9,170.44 515,170.44 515.1,170.44 515.2,170.44 515.3,170.44 515.4,170.44 515.5,170.44 515.6,170.44 515.7,170.44 515.8,170.44 515.9,170.44 516,170.44 516.1,170.44 516.2,170.44 516.3,170.44 516.4,170.44 516.5,170.44 516.6,170.44 516.7,170.44 516.8,170.44 516.9,170.44 517,170.44 517.1,170.44 517.2,170.44 517.3,170.44 517.4,170.44 517.5,170.44 517.6,170.44 517.7,170.44 517.8,170.44 517.9,170.44 518,170.44 518.1,170.44 518.2,170.44 518.3,170.44 518.4,170.44 518.5,170.44 518.6,170.44 518.7,170.44 518.8,170.44 518.9,170.44 519,170.44 519.1,170.44 519.2,170.44 519.3,170.44 519.4,170.44 519.5,170.44 519.6,170.44 519.7,170.44 519.8,170.44 519.9,170.44 520,170.44 520.1,170.44 520.2,170.44 520.3,170.44 520.4,170.44 520.5,170.44 520.6,170.44 520.7,170.44 520.8,170.44 520.9,170.44 521,170.44 521.1,170.44 521.2,170.44 521.3,170.44 521.4,170.44 521.5,170.44 521.6,170.44 521.7,170.44 521.8,170.44 521.9,170.44 522,170.44 522.1,170.44 522.2,170.44 522.3,170.44 522.4,170.44 522.5,170.44 522.6,170.44 522.7,170.44 522.8,170.44 522.9,170.44 523,170.44 523.1,170.44 523.2,170.44 523.3,170.44 523.4,170.44 523.5,170.44 523.6,170.44 523.7,170.44 523.8,170.44 523.9,170.44 524,170.44 524.1,170.44 524.2,170.44 524.3,170.44 524.4,170.44 524.5,170.44 524.6,170.44 524.7,170.44 524.8,170.44 524.9,170.44 525,170.44 525.1,170.44 525.2,170.44 525.3,170.44 525.4,170.44 525.5,170.44 525.6,170.44 525.7,170.44 525.8,170.44 525.9,170.44 526,170.44 526.1,170.44 526.2,170.44 526.3,170.44 526.4,170.44 526.5,170.44 526.6,170.44 526.7,170.44 526.8,170.43 526.9,170.43 527,170.43 527.1,170.43 527.2,170.43 527.3,170.43 527.4,170.43 527.5,170.43 527.6,170.43 527.7,170.43 527.8,170.43 527.9,170.43 528,170.43 528.1,170.43 528.2,170.43 528.3,170.43 528.4,170.43 528.5,170.43 528.6,170.43 528.7,170.43 528.8,170.43 528.9,170.43 529,170.43 529.1,170.43 529.2,170.43 529.3,170.43 529.4,170.43 529.5,170.43 529.6,170.43 529.7,170.43 529.8,170.43 529.9,170.43 530,170.43 530.1,170.43 530.2,170.43 530.3,170.43 530.4,170.43 530.5,170.43 530.6,170.43 530.7,170.43 530.8,170.43 530.9,170.43 531,170.43 531.1,170.43 531.2,170.43 531.3,170.43 531.4,170.43 531.5,170.43 531.6,170.43 531.7,170.43 531.8,170.43 531.9,170.43 532,170.43 532.1,170.43 532.2,170.43 532.3,170.43 532.4,170.43 532.5,170.43 532.6,170.43 532.7,170.43 532.8,170.43 532.9,170.43 533,170.43 533.1,170.43 533.2,170.43 533.3,170.43 533.4,170.43 533.5,170.43 533.6,170.43 533.7,170.43 533.8,170.43 533.9,170.43 534,170.43 534.1,170.43 534.2,170.43 534.3,170.43 534.4,170.43 534.5,170.43 534.6,170.43 534.7,170.43 534.8,170.43 534.9,170.43 535,170.43 535.1,170.43 535.2,170.43 535.3,170.43 535.4,170.43 535.5,170.43 535.6,170.43 535.7,170.43 535.8,170.43 535.9,170.43 536,170.43 536.1,170.43 536.2,170.43 536.3,170.42 536.4,170.4 536.5,170.36 536.6,170.27 536.7,170.09 536.8,169.76 536.9,169.19 537,168.26 537.1,166.81 537.2,164.73 537.3,161.9 537.4,158.35 537.5,154.21 537.6,149.78 537.7,145.52 537.8,141.95 537.9,139.57 538,138.73 538.1,139.13 538.2,140.29 538.3,142.13 538.4,144.52 538.5,147.3 538.6,150.29 538.7,153.33 538.8,156.28 538.9,159.01 539,161.44 539.1,163.53 539.2,165.26 539.3,166.66 539.4,167.75 539.5,168.57 539.6,169.17 539.7,169.6 539.8,169.9 539.9,170.1 540,170.23 540.1,170.31 540.2,170.36 540.3,170.39 540.4,170.41 540.5,170.42 540.6,170.42 540.7,170.43 540.8,170.43 540.9,170.43 541,170.43 541.1,170.43 541.2,170.43 541.3,170.43 541.4,170.43 541.5,170.43 541.6,170.43 541.7,170.43 541.8,170.43 541.9,170.43 542,170.43 542.1,170.43 542.2,170.43 542.3,170.43 542.4,170.43 542.5,170.43 542.6,170.43 542.7,170.43 542.8,170.43 542.9,170.43 543,170.43 543.1,170.43 543.2,170.43 543.3,170.43 543.4,170.42 543.5,170.41 543.6,170.37 543.7,170.31 543.8,170.2 543.9,170.02 544,169.77 544.1,169.45 544.2,169.09 544.3,168.75 544.4,168.52 544.5,168.43 544.6,168.47 544.7,168.59 544.8,168.77 544.9,169 545,169.24 545.1,169.48 545.2,169.71 545.3,169.9 545.4,170.06 545.5,170.18 545.6,170.27 545.7,170.33 545.8,170.37 545.9,170.4 546,170.41 546.1,170.42 546.2,170.42 546.3,170.43 546.4,170.43 546.5,170.43 546.6,170.43 546.7,170.43 546.8,170.43 546.9,170.43 547,170.43 547.1,170.43 547.2,170.43 547.3,170.43 547.4,170.43 547.5,170.43 547.6,170.43 547.7,170.43 547.8,170.43 547.9,170.43 548,170.43 548.1,170.43 548.2,170.43 548.3,170.43 548.4,170.43 548.5,170.43 548.6,170.43 548.7,170.43 548.8,170.43 548.9,170.43 549,170.43 549.1,170.43 549.2,170.42 549.3,170.41 549.4,170.38 549.5,170.32 549.6,170.22 549.7,170.06 549.8,169.83 549.9,169.54 550,169.22 550.1,168.92 550.2,168.71 550.3,168.63 550.4,168.67 550.5,168.77 550.6,168.94 550.7,169.14 550.8,169.36 550.9,169.58 551,169.78 551.1,169.95 551.2,170.09 551.3,170.2 551.4,170.28 551.5,170.34 551.6,170.37 551.7,170.4 551.8,170.41 551.9,170.42 552,170.42 552.1,170.43 552.2,170.43 552.3,170.43 552.4,170.43 552.5,170.43 552.6,170.43 552.7,170.43 552.8,170.43 552.9,170.43 553,170.43 553.1,170.43 553.2,170.43 553.3,170.43 553.4,170.43 553.5,170.43 553.6,170.43 553.7,170.43 553.8,170.43 553.9,170.43 554,170.43 554.1,170.43 554.2,170.43 554.3,170.43 554.4,170.43 554.5,170.43 554.6,170.43 554.7,170.43 554.8,170.43 554.9,170.43 555,170.43 555.1,170.43 555.2,170.43 555.3,170.43 555.4,170.43 555.5,170.43 555.6,170.43 555.7,170.43 555.8,170.43 555.9,170.43 556,170.43 556.1,170.43 556.2,170.43 556.3,170.43 556.4,170.43 556.5,170.43 556.6,170.43 556.7,170.43 556.8,170.43 556.9,170.43 557,170.43 557.1,170.43 557.2,170.43 557.3,170.43 557.4,170.43 557.5,170.43 557.6,170.43 557.7,170.43 557.8,170.43 557.9,170.43 558,170.43 558.1,170.43 558.2,170.43 558.3,170.43 558.4,170.43 558.5,170.43 558.6,170.43 558.7,170.43 558.8,170.43 558.9,170.43 559,170.43 559.1,170.43 559.2,170.43 559.3,170.43 559.4,170.43 559.5,170.43 559.6,170.43 559.7,170.43 559.8,170.43 559.9,170.43 560,170.43 560.1,170.43 560.2,170.43 560.3,170.43 560.4,170.43 560.5,170.43 560.6,170.43 560.7,170.43 560.8,170.43 560.9,170.43 561,170.43 561.1,170.43 561.2,170.43 561.3,170.43 561.4,170.43 561.5,170.43 561.6,170.43 561.7,170.43 561.8,170.43 561.9,170.43 562,170.43 562.1,170.43 562.2,170.43 562.3,170.42 562.4,170.42 562.5,170.42 562.6,170.42 562.7,170.42 562.8,170.42 562.9,170.42 563,170.42 563.1,170.42 563.2,170.42 563.3,170.42 563.4,170.42 563.5,170.42 563.6,170.42 563.7,170.42 563.8,170.42 563.9,170.42 564,170.42 564.1,170.42 564.2,170.42 564.3,170.42 564.4,170.42 564.5,170.42 564.6,170.42 564.7,170.42 564.8,170.42 564.9,170.42 565,170.42 565.1,170.42 565.2,170.42 565.3,170.42 565.4,170.42 565.5,170.42 565.6,170.42 565.7,170.42 565.8,170.42 565.9,170.42 566,170.42 566.1,170.42 566.2,170.42 566.3,170.42 566.4,170.42 566.5,170.42 566.6,170.42 566.7,170.42 566.8,170.42 566.9,170.42 567,170.42 567.1,170.42 567.2,170.42 567.3,170.42 567.4,170.42 567.5,170.42 567.6,170.42 567.7,170.42 567.8,170.42 567.9,170.42 568,170.42 568.1,170.42 568.2,170.42 568.3,170.42 568.4,170.42 568.5,170.42 568.6,170.42 568.7,170.42 568.8,170.41 568.9,170.4 569,170.36 569.1,170.3 569.2,170.18 569.3,169.97 569.4,169.63 569.5,169.11 569.6,168.35 569.7,167.33 569.8,166.04 569.9,164.54 570,162.93 570.1,161.39 570.2,160.09 570.3,159.23 570.4,158.92 570.5,159.07 570.6,159.49 570.7,160.16 570.8,161.02 570.9,162.03 571,163.12 571.1,164.22 571.2,165.29 571.3,166.28 571.4,167.16 571.5,167.92 571.6,168.55 571.7,169.05 571.8,169.45 571.9,169.75 572,169.97 572.1,170.12 572.2,170.23 572.3,170.3 572.4,170.35 572.5,170.38 572.6,170.4 572.7,170.41 572.8,170.41 572.9,170.42 573,170.42 573.1,170.42 573.2,170.42 573.3,170.42 573.4,170.42 573.5,170.42 573.6,170.42 573.7,170.42 573.8,170.42 573.9,170.42 574,170.42 574.1,170.42 574.2,170.42 574.3,170.42 574.4,170.42 574.5,170.42 574.6,170.42 574.7,170.42 574.8,170.42 574.9,170.42 575,170.42 575.1,170.42 575.2,170.42 575.3,170.42 575.4,170.42 575.5,170.42 575.6,170.42 575.7,170.42 575.8,170.42 575.9,170.42 576,170.42 576.1,170.42 576.2,170.42 576.3,170.42 576.4,170.42 576.5,170.42 576.6,170.42 576.7,170.42 576.8,170.42 576.9,170.42 577,170.42 577.1,170.42 577.2,170.42 577.3,170.42 577.4,170.42 577.5,170.42 577.6,170.42 577.7,170.42 577.8,170.42 577.9,170.42 578,170.42 578.1,170.42 578.2,170.42 578.3,170.42 578.4,170.42 578.5,170.42 578.6,170.42 578.7,170.42 578.8,170.42 578.9,170.42 579,170.42 579.1,170.42 579.2,170.42 579.3,170.42 579.4,170.42 579.5,170.42 579.6,170.42 579.7,170.42 579.8,170.41 579.9,170.4 580,170.37 580.1,170.32 580.2,170.21 580.3,170.01 580.4,169.66 580.5,169.09 580.6,168.21 580.7,166.93 580.8,165.2 580.9,163.03 581,160.49 581.1,157.78 581.2,155.18 581.3,152.99 581.4,151.53 581.5,151.02 581.6,151.26 581.7,151.97 581.8,153.1 581.9,154.56 582,156.26 582.1,158.09 582.2,159.95 582.3,161.76 582.4,163.43 582.5,164.92 582.6,166.19 582.7,167.26 582.8,168.11 582.9,168.78 583,169.28 583.1,169.65 583.2,169.91 583.3,170.09 583.4,170.21 583.5,170.29 583.6,170.34 583.7,170.38 583.8,170.39 583.9,170.41 584,170.41 584.1,170.41 584.2,170.42 584.3,170.42 584.4,170.42 584.5,170.42 584.6,170.42 584.7,170.42 584.8,170.42 584.9,170.42 585,170.42 585.1,170.42 585.2,170.42 585.3,170.42 585.4,170.42 585.5,170.42 585.6,170.42 585.7,170.42 585.8,170.42 585.9,170.42 586,170.42 586.1,170.42 586.2,170.42 586.3,170.42 586.4,170.42 586.5,170.42 586.6,170.42 586.7,170.42 586.8,170.42 586.9,170.42 587,170.42 587.1,170.42 587.2,170.42 587.3,170.42 587.4,170.42 587.5,170.42 587.6,170.42 587.7,170.42 587.8,170.42 587.9,170.42 588,170.42 588.1,170.42 588.2,170.42 588.3,170.42 588.4,170.42 588.5,170.42 588.6,170.42 588.7,170.42 588.8,170.42 588.9,170.42 589,170.42 589.1,170.42 589.2,170.42 589.3,170.42 589.4,170.42 589.5,170.42 589.6,170.42 589.7,170.42 589.8,170.42 589.9,170.42 590,170.42 590.1,170.42 590.2,170.42 590.3,170.42 590.4,170.42 590.5,170.42 590.6,170.42 590.7,170.42 590.8,170.42 590.9,170.42 591,170.42 591.1,170.42 591.2,170.42 591.3,170.42 591.4,170.42 591.5,170.42 591.6,170.42 591.7,170.42 591.8,170.42 591.9,170.42 592,170.42 592.1,170.42 592.2,170.42 592.3,170.42 592.4,170.42 592.5,170.42 592.6,170.42 592.7,170.42 592.8,170.42 592.9,170.42 593,170.42 593.1,170.42 593.2,170.42 593.3,170.42 593.4,170.42 593.5,170.42 593.6,170.42 593.7,170.42 593.8,170.42 593.9,170.42 594,170.42 594.1,170.42 594.2,170.42 594.3,170.42 594.4,170.42 594.5,170.42 594.6,170.42 594.7,170.42 594.8,170.42 594.9,170.42 595,170.42 595.1,170.42 595.2,170.42 595.3,170.42 595.4,170.42 595.5,170.42 595.6,170.42 595.7,170.42 595.8,170.42 595.9,170.42 596,170.42 596.1,170.42 596.2,170.42 596.3,170.42 596.4,170.42 596.5,170.42 596.6,170.42 596.7,170.42 596.8,170.42 596.9,170.42 597,170.42 597.1,170.42 597.2,170.42 597.3,170.42 597.4,170.42 597.5,170.42 597.6,170.42 597.7,170.42 597.8,170.41 597.9,170.41 598,170.41 598.1,170.41 598.2,170.41 598.3,170.41 598.4,170.41 598.5,170.41 598.6,170.41 598.7,170.41 598.8,170.41 598.9,170.41 599,170.41 599.1,170.41 599.2,170.41 599.3,170.41 599.4,170.41 599.5,170.41 599.6,170.41 599.7,170.41 599.8,170.41 599.9,170.41 600,170.41 600.1,170.41 600.2,170.41 600.3,170.41 600.4,170.41 600.5,170.41 600.6,170.41 600.7,170.41 600.8,170.41 600.9,170.41 601,170.41 601.1,170.41 601.2,170.41 601.3,170.41 601.4,170.41 601.5,170.41 601.6,170.41 601.7,170.41 601.8,170.41 601.9,170.41 602,170.41 602.1,170.41 602.2,170.41 602.3,170.41 602.4,170.41 602.5,170.41 602.6,170.41 602.7,170.41 602.8,170.41 602.9,170.41 603,170.41 603.1,170.41 603.2,170.41 603.3,170.41 603.4,170.41 603.5,170.41 603.6,170.41 603.7,170.41 603.8,170.41 603.9,170.41 604,170.41 604.1,170.41 604.2,170.41 604.3,170.41 604.4,170.41 604.5,170.41 604.6,170.41 604.7,170.41 604.8,170.41 604.9,170.41 605,170.41 605.1,170.41 605.2,170.41 605.3,170.41 605.4,170.41 605.5,170.41 605.6,170.41 605.7,170.41 605.8,170.41 605.9,170.41 606,170.41 606.1,170.41 606.2,170.41 606.3,170.41 606.4,170.41 606.5,170.41 606.6,170.41 606.7,170.41 606.8,170.41 606.9,170.41 607,170.41 607.1,170.41 607.2,170.41 607.3,170.41 607.4,170.41 607.5,170.41 607.6,170.41 607.7,170.41 607.8,170.4 607.9,170.39 608,170.36 608.1,170.29 608.2,170.18 608.3,170.01 608.4,169.75 608.5,169.43 608.6,169.07 608.7,168.74 608.8,168.5 608.9,168.41 609,168.45 609.1,168.57 609.2,168.75 609.3,168.98 609.4,169.22 609.5,169.47 609.6,169.69 609.7,169.88 609.8,170.03 609.9,170.14 610,170.18 610.1,170.15 610.2,170.01 610.3,169.72 610.4,169.22 610.5,168.48 610.6,167.55 610.7,166.52 610.8,165.55 610.9,164.86 611,164.61 611.1,164.73 611.2,165.07 611.3,165.6 611.4,166.25 611.5,166.97 611.6,167.67 611.7,168.32 611.8,168.88 611.9,169.34 612,169.69 612.1,169.94 612.2,170.12 612.3,170.24 612.4,170.31 612.5,170.36 612.6,170.38 612.7,170.4 612.8,170.4 612.9,170.41 613,170.41 613.1,170.41 613.2,170.41 613.3,170.41 613.4,170.41 613.5,170.41 613.6,170.41 613.7,170.41 613.8,170.41 613.9,170.41 614,170.41 614.1,170.41 614.2,170.41 614.3,170.41 614.4,170.41 614.5,170.41 614.6,170.41 614.7,170.41 614.8,170.41 614.9,170.41 615,170.41 615.1,170.41 615.2,170.41 615.3,170.41 615.4,170.41 615.5,170.41 615.6,170.41 615.7,170.41 615.8,170.41 615.9,170.41 616,170.41 616.1,170.41 616.2,170.41 616.3,170.41 616.4,170.41 616.5,170.41 616.6,170.41 616.7,170.41 616.8,170.41 616.9,170.41 617,170.41 617.1,170.41 617.2,170.41 617.3,170.41 617.4,170.41 617.5,170.41 617.6,170.41 617.7,170.41 617.8,170.41 617.9,170.41 618,170.41 618.1,170.41 618.2,170.41 618.3,170.41 618.4,170.41 618.5,170.41 618.6,170.41 618.7,170.41 618.8,170.41 618.9,170.41 619,170.41 619.1,170.41 619.2,170.41 619.3,170.41 619.4,170.41 619.5,170.41 619.6,170.41 619.7,170.41 619.8,170.41 619.9,170.41 620,170.41 620.1,170.41 620.2,170.41 620.3,170.41 620.4,170.41 620.5,170.41 620.6,170.41 620.7,170.41 620.8,170.41 620.9,170.4 621,170.39 621.1,170.38 621.2,170.34 621.3,170.28 621.4,170.18 621.5,170.03 621.6,169.82 621.7,169.55 621.8,169.25 621.9,168.93 622,168.66 622.1,168.47 622.2,168.41 622.3,168.44 622.4,168.53 622.5,168.68 622.6,168.86 622.7,169.07 622.8,169.28 622.9,169.49 623,169.69 623.1,169.86 623.2,170 623.3,170.12 623.4,170.21 623.5,170.27 623.6,170.32 623.7,170.35 623.8,170.37 623.9,170.39 624,170.4 624.1,170.4 624.2,170.4 624.3,170.41 624.4,170.41 624.5,170.41 624.6,170.41 624.7,170.41 624.8,170.41 624.9,170.41 625,170.41 625.1,170.41 625.2,170.41 625.3,170.41 625.4,170.41 625.5,170.41 625.6,170.41 625.7,170.41 625.8,170.41 625.9,170.41 626,170.41 626.1,170.41 626.2,170.41 626.3,170.41 626.4,170.41 626.5,170.41 626.6,170.41 626.7,170.41 626.8,170.41 626.9,170.41 627,170.41 627.1,170.41 627.2,170.4 627.3,170.4 627.4,170.38 627.5,170.36 627.6,170.31 627.7,170.21 627.8,170.06 627.9,169.84 628,169.52 628.1,169.12 628.2,168.66 628.3,168.2 628.4,167.79 628.5,167.51 628.6,167.41 628.7,167.45 628.8,167.59 628.9,167.81 629,168.08 629.1,168.39 629.2,168.72 629.3,169.03 629.4,169.32 629.5,169.58 629.6,169.8 629.7,169.97 629.8,170.1 629.9,170.2 630,170.27 630.1,170.32 630.2,170.36 630.3,170.38 630.4,170.39 630.5,170.4 630.6,170.4 630.7,170.4 630.8,170.4 630.9,170.41 631,170.41 631.1,170.41 631.2,170.41 631.3,170.41 631.4,170.41 631.5,170.41 631.6,170.41 631.7,170.41 631.8,170.41 631.9,170.41 632,170.41 632.1,170.41 632.2,170.41 632.3,170.41 632.4,170.41 632.5,170.41 632.6,170.41 632.7,170.4 632.8,170.4 632.9,170.4 633,170.39 633.1,170.38 633.2,170.35 633.3,170.29 633.4,170.2 633.5,170.07 633.6,169.91 633.7,169.73 633.8,169.57 633.9,169.45 634,169.4 634.1,169.43 634.2,169.48 634.3,169.58 634.4,169.69 634.5,169.81 634.6,169.93 634.7,170.04 634.8,170.14 634.9,170.22 635,170.28 635.1,170.32 635.2,170.35 635.3,170.37 635.4,170.39 635.5,170.4 635.6,170.4 635.7,170.4 635.8,170.4 635.9,170.4 636,170.4 636.1,170.4 636.2,170.4 636.3,170.4 636.4,170.4 636.5,170.4 636.6,170.4 636.7,170.4 636.8,170.4 636.9,170.4 637,170.4 637.1,170.4 637.2,170.4 637.3,170.4 637.4,170.4 637.5,170.4 637.6,170.4 637.7,170.4 637.8,170.4 637.9,170.4 638,170.4 638.1,170.4 638.2,170.4 638.3,170.4 638.4,170.4 638.5,170.4 638.6,170.4 638.7,170.4 638.8,170.4 638.9,170.4 639,170.4 639.1,170.4 639.2,170.4 639.3,170.4 639.4,170.4 639.5,170.4 639.6,170.4 639.7,170.4 639.8,170.4 639.9,170.4 640,170.4 640.1,170.4 640.2,170.4 640.3,170.4 640.4,170.4 640.5,170.4 640.6,170.4 640.7,170.4 640.8,170.4 640.9,170.4 641,170.4 641.1,170.4 641.2,170.4 641.3,170.4 641.4,170.4 641.5,170.4 641.6,170.4 641.7,170.4 641.8,170.4 641.9,170.4 642,170.4 642.1,170.4 642.2,170.4 642.3,170.4 642.4,170.4 642.5,170.4 642.6,170.4 642.7,170.4 642.8,170.4 642.9,170.4 643,170.4 643.1,170.4 643.2,170.4 643.3,170.4 643.4,170.4 643.5,170.4 643.6,170.4 643.7,170.4 643.8,170.4 643.9,170.4 644,170.4 644.1,170.4 644.2,170.4 644.3,170.4 644.4,170.4 644.5,170.4 644.6,170.4 644.7,170.4 644.8,170.4 644.9,170.4 645,170.4 645.1,170.4 645.2,170.4 645.3,170.4 645.4,170.4 645.5,170.4 645.6,170.4 645.7,170.4 645.8,170.4 645.9,170.4 646,170.4 646.1,170.4 646.2,170.4 646.3,170.4 646.4,170.4 646.5,170.4 646.6,170.4 646.7,170.4 646.8,170.4 646.9,170.4 647,170.4 647.1,170.4 647.2,170.4 647.3,170.4 647.4,170.4 647.5,170.4 647.6,170.4 647.7,170.4 647.8,170.4 647.9,170.4 648,170.4 648.1,170.4 648.2,170.4 648.3,170.4 648.4,170.4 648.5,170.4 648.6,170.4 648.7,170.4 648.8,170.4 648.9,170.4 649,170.4 649.1,170.4 649.2,170.4 649.3,170.4 649.4,170.4 649.5,170.4 649.6,170.4 649.7,170.4 649.8,170.4 649.9,170.4 650,170.4 650.1,170.4 650.2,170.4 650.3,170.4 650.4,170.4 650.5,170.4 650.6,170.4 650.7,170.4 650.8,170.4 650.9,170.4 651,170.4 651.1,170.4 651.2,170.4" fill="none" stroke="#3a52a3" stroke-width="1.3" stroke-linejoin="round"/>
<line x1="296" y1="179.4" x2="651.5" y2="179.4" stroke="#262626" stroke-width="1.5" />
<line x1="296.4" y1="179.4" x2="296.4" y2="183.4" stroke="#262626" stroke-width="1.2" />
<text transform="translate(296.4,192.7) scale(0.95,1.1)" font-size="8.8" fill="#262626" stroke="#262626" stroke-width="0.12" text-anchor="middle">0</text>
<line x1="367.32" y1="179.4" x2="367.32" y2="183.4" stroke="#262626" stroke-width="1.2" />
<text transform="translate(367.32,192.7) scale(0.95,1.1)" font-size="8.8" fill="#262626" stroke="#262626" stroke-width="0.12" text-anchor="middle">2</text>
<line x1="438.24" y1="179.4" x2="438.24" y2="183.4" stroke="#262626" stroke-width="1.2" />
<text transform="translate(438.24,192.7) scale(0.95,1.1)" font-size="8.8" fill="#262626" stroke="#262626" stroke-width="0.12" text-anchor="middle">4</text>
<line x1="509.16" y1="179.4" x2="509.16" y2="183.4" stroke="#262626" stroke-width="1.2" />
<text transform="translate(509.16,192.7) scale(0.95,1.1)" font-size="8.8" fill="#262626" stroke="#262626" stroke-width="0.12" text-anchor="middle">6</text>
<line x1="580.08" y1="179.4" x2="580.08" y2="183.4" stroke="#262626" stroke-width="1.2" />
<text transform="translate(580.08,192.7) scale(0.95,1.1)" font-size="8.8" fill="#262626" stroke="#262626" stroke-width="0.12" text-anchor="middle">8</text>
<line x1="651" y1="179.4" x2="651" y2="183.4" stroke="#262626" stroke-width="1.2" />
<text transform="translate(651,192.7) scale(0.95,1.1)" font-size="8.8" fill="#262626" stroke="#262626" stroke-width="0.12" text-anchor="middle">10</text>
<line x1="331.86" y1="179.4" x2="331.86" y2="181.8" stroke="#262626" stroke-width="1" />
<line x1="402.78" y1="179.4" x2="402.78" y2="181.8" stroke="#262626" stroke-width="1" />
<line x1="473.7" y1="179.4" x2="473.7" y2="181.8" stroke="#262626" stroke-width="1" />
<line x1="544.62" y1="179.4" x2="544.62" y2="181.8" stroke="#262626" stroke-width="1" />
<line x1="615.54" y1="179.4" x2="615.54" y2="181.8" stroke="#262626" stroke-width="1" />
<text x="425.1" y="209.6" font-size="10.8" fill="#262626" stroke="#262626" stroke-width="0.25" text-anchor="start" >Retention time (min)</text>
<text x="398.4" y="24.7" font-size="9.9" fill="#262626" stroke="#262626" stroke-width="0.25" text-anchor="start" >C<tspan font-size="6.2" dy="2.2" stroke-width="0">2</tspan><tspan dy="-2.2">H</tspan><tspan font-size="6.2" dy="2.2" stroke-width="0">4</tspan></text>
<text x="375.8" y="85" font-size="9.9" fill="#262626" stroke="#262626" stroke-width="0.25" text-anchor="start" >C<tspan font-size="6.2" dy="2.2" stroke-width="0">2</tspan><tspan dy="-2.2">H</tspan><tspan font-size="6.2" dy="2.2" stroke-width="0">6</tspan></text>
<text x="367" y="115.7" font-size="9.9" fill="#262626" stroke="#262626" stroke-width="0.25" text-anchor="start" >CH<tspan font-size="6.2" dy="2.2" stroke-width="0">4</tspan></text>
<text x="417.5" y="158.2" font-size="9.9" fill="#262626" stroke="#262626" stroke-width="0.25" text-anchor="start" >C<tspan font-size="6.2" dy="2.2" stroke-width="0">3</tspan><tspan dy="-2.2">H</tspan><tspan font-size="6.2" dy="2.2" stroke-width="0">8</tspan></text>
<text x="453.2" y="132.1" font-size="9.9" fill="#262626" stroke="#262626" stroke-width="0.25" text-anchor="start" >C<tspan font-size="6.2" dy="2.2" stroke-width="0">3</tspan><tspan dy="-2.2">H</tspan><tspan font-size="6.2" dy="2.2" stroke-width="0">6</tspan></text>
<text x="500.4" y="112.8" font-size="9.4" fill="#262626" stroke="#262626" stroke-width="0.25" text-anchor="start" >Alkynes and C<tspan font-size="6.2" dy="2" stroke-width="0">≥4</tspan><tspan dy="-2"> hydrocarbons</tspan></text>
<line x1="396.5" y1="165" x2="377.99" y2="122.27" stroke="#1a1a1a" stroke-width="0.9" />
<polygon points="376.4,118.6 380.04,122.47 377.91,122.09 376.74,123.9" fill="#1a1a1a"/>
<line x1="402.6" y1="150" x2="387.98" y2="91.88" stroke="#1a1a1a" stroke-width="0.9" />
<polygon points="387,88 389.97,92.41 387.93,91.69 386.47,93.29" fill="#1a1a1a"/>
<path d="M480.2,138.8 Q480.2,130.7 487.5,130.7 L556,130.7 Q561.9,130.7 561.9,123.2 Q561.9,130.7 567.8,130.7 L636.5,130.7 Q643.8,130.7 643.8,138.7" fill="none" stroke="#333" stroke-width="1.15"/>
<text x="-0.5" y="237.7" font-size="14" font-weight="bold" fill="#000" stroke="#000" stroke-width="0.25">c</text>
<rect x="50" y="275.16" width="21" height="132.24" fill="#4a93c9"/>
<rect x="101.4" y="277.91" width="21" height="129.49" fill="#4a93c9"/>
<rect x="153.1" y="283.42" width="21" height="123.98" fill="#d96565"/>
<rect x="204.1" y="316.49" width="21" height="90.91" fill="#4a93c9"/>
<rect x="204.1" y="247.61" width="21" height="68.88" fill="#d96565"/>
<rect x="34.8" y="242.0" width="205.6" height="165.2" fill="none" stroke="#262626" stroke-width="1.3"/>
<line x1="31.8" y1="407.4" x2="34.8" y2="407.4" stroke="#262626" stroke-width="1.1" />
<text transform="translate(29.6,410.1) scale(0.95,1.1)" font-size="9" fill="#262626" stroke="#262626" stroke-width="0.12" text-anchor="end">0</text>
<line x1="31.8" y1="379.85" x2="34.8" y2="379.85" stroke="#262626" stroke-width="1.1" />
<text transform="translate(29.6,382.55) scale(0.95,1.1)" font-size="9" fill="#262626" stroke="#262626" stroke-width="0.12" text-anchor="end">10</text>
<line x1="31.8" y1="352.3" x2="34.8" y2="352.3" stroke="#262626" stroke-width="1.1" />
<text transform="translate(29.6,355) scale(0.95,1.1)" font-size="9" fill="#262626" stroke="#262626" stroke-width="0.12" text-anchor="end">20</text>
<line x1="31.8" y1="324.75" x2="34.8" y2="324.75" stroke="#262626" stroke-width="1.1" />
<text transform="translate(29.6,327.45) scale(0.95,1.1)" font-size="9" fill="#262626" stroke="#262626" stroke-width="0.12" text-anchor="end">30</text>
<line x1="31.8" y1="297.2" x2="34.8" y2="297.2" stroke="#262626" stroke-width="1.1" />
<text transform="translate(29.6,299.9) scale(0.95,1.1)" font-size="9" fill="#262626" stroke="#262626" stroke-width="0.12" text-anchor="end">40</text>
<line x1="31.8" y1="269.65" x2="34.8" y2="269.65" stroke="#262626" stroke-width="1.1" />
<text transform="translate(29.6,272.35) scale(0.95,1.1)" font-size="9" fill="#262626" stroke="#262626" stroke-width="0.12" text-anchor="end">50</text>
<line x1="31.8" y1="242.1" x2="34.8" y2="242.1" stroke="#262626" stroke-width="1.1" />
<text transform="translate(29.6,244.8) scale(0.95,1.1)" font-size="9" fill="#262626" stroke="#262626" stroke-width="0.12" text-anchor="end">60</text>
<line x1="33" y1="393.62" x2="34.8" y2="393.62" stroke="#262626" stroke-width="1" />
<line x1="33" y1="366.07" x2="34.8" y2="366.07" stroke="#262626" stroke-width="1" />
<line x1="33" y1="338.52" x2="34.8" y2="338.52" stroke="#262626" stroke-width="1" />
<line x1="33" y1="310.97" x2="34.8" y2="310.97" stroke="#262626" stroke-width="1" />
<line x1="33" y1="283.42" x2="34.8" y2="283.42" stroke="#262626" stroke-width="1" />
<line x1="33" y1="255.87" x2="34.8" y2="255.87" stroke="#262626" stroke-width="1" />
<line x1="60.5" y1="407.2" x2="60.5" y2="410.2" stroke="#262626" stroke-width="1.1" />
<line x1="111.9" y1="407.2" x2="111.9" y2="410.2" stroke="#262626" stroke-width="1.1" />
<line x1="163.6" y1="407.2" x2="163.6" y2="410.2" stroke="#262626" stroke-width="1.1" />
<line x1="214.6" y1="407.2" x2="214.6" y2="410.2" stroke="#262626" stroke-width="1.1" />
<text transform="translate(14.2,324.5) rotate(-90)" font-size="11.1" fill="#262626" stroke="#262626" stroke-width="0.25" text-anchor="middle">Selectivity (%)</text>
<text transform="translate(66.1,422.0) rotate(-30)" font-size="11" fill="#262626" stroke="#262626" stroke-width="0.25" text-anchor="end">LMWPE</text>
<text transform="translate(117.5,422.0) rotate(-30)" font-size="11" fill="#262626" stroke="#262626" stroke-width="0.25" text-anchor="end">HMWPE</text>
<text transform="translate(169.2,422.0) rotate(-30)" font-size="11" fill="#262626" stroke="#262626" stroke-width="0.25" text-anchor="end">PP</text>
<text transform="translate(220.2,422.0) rotate(-30)" font-size="11" fill="#262626" stroke="#262626" stroke-width="0.25" text-anchor="end">PE/PP Mixture</text>
<rect x="42.2" y="247" width="22.9" height="11.4" fill="#4a93c9"/>
<text x="67.7" y="256.3" font-size="10.2" fill="#262626" stroke="#262626" stroke-width="0.25" text-anchor="start" >Ethylene</text>
<rect x="124" y="247" width="22.9" height="11.4" fill="#d96565"/>
<text x="149.5" y="256.3" font-size="10.2" fill="#262626" stroke="#262626" stroke-width="0.25" text-anchor="start" >Propylene</text>
<text x="248.3" y="237.7" font-size="14" font-weight="bold" fill="#000" stroke="#000" stroke-width="0.25">d</text>
<rect x="296.6" y="241.4" width="354.4" height="165.5" fill="none" stroke="#262626" stroke-width="1.3"/>
<line x1="293.6" y1="388.6" x2="296.6" y2="388.6" stroke="#262626" stroke-width="1.1" />
<text transform="translate(291.3,391.3) scale(0.95,1.1)" font-size="9" fill="#262626" stroke="#262626" stroke-width="0.12" text-anchor="end">0</text>
<line x1="293.6" y1="351.9" x2="296.6" y2="351.9" stroke="#262626" stroke-width="1.1" />
<text transform="translate(291.3,354.6) scale(0.95,1.1)" font-size="9" fill="#262626" stroke="#262626" stroke-width="0.12" text-anchor="end">1,000</text>
<line x1="293.6" y1="315.2" x2="296.6" y2="315.2" stroke="#262626" stroke-width="1.1" />
<text transform="translate(291.3,317.9) scale(0.95,1.1)" font-size="9" fill="#262626" stroke="#262626" stroke-width="0.12" text-anchor="end">2,000</text>
<line x1="293.6" y1="278.5" x2="296.6" y2="278.5" stroke="#262626" stroke-width="1.1" />
<text transform="translate(291.3,281.2) scale(0.95,1.1)" font-size="9" fill="#262626" stroke="#262626" stroke-width="0.12" text-anchor="end">3,000</text>
<line x1="293.6" y1="241.8" x2="296.6" y2="241.8" stroke="#262626" stroke-width="1.1" />
<text transform="translate(291.3,244.5) scale(0.95,1.1)" font-size="9" fill="#262626" stroke="#262626" stroke-width="0.12" text-anchor="end">4,000</text>
<line x1="294.8" y1="406.95" x2="296.6" y2="406.95" stroke="#262626" stroke-width="1" />
<line x1="294.8" y1="370.25" x2="296.6" y2="370.25" stroke="#262626" stroke-width="1" />
<line x1="294.8" y1="333.55" x2="296.6" y2="333.55" stroke="#262626" stroke-width="1" />
<line x1="294.8" y1="296.85" x2="296.6" y2="296.85" stroke="#262626" stroke-width="1" />
<line x1="294.8" y1="260.15" x2="296.6" y2="260.15" stroke="#262626" stroke-width="1" />
<line x1="296.5" y1="342.8" x2="651" y2="342.8" stroke="#2a2a2a" stroke-width="1.4" stroke-dasharray="6.8,5.55"/>
<text transform="translate(263.0,324.2) rotate(-90)" font-size="11" fill="#262626" stroke="#262626" stroke-width="0.25" text-anchor="middle">T<tspan font-size="7.8" dy="2.3" stroke-width="0.1">m</tspan><tspan dy="-2.3"> (°C)</tspan></text>
<text x="473.8" y="424.5" font-size="11" fill="#262626" stroke="#262626" stroke-width="0.25" text-anchor="middle" >Periodicity</text>
<rect x="305" y="250.6" width="110.3" height="26" fill="#000"/>
<rect x="302.3" y="247.6" width="110.1" height="26.6" fill="#fff" stroke="#c8c8c8" stroke-width="0.8"/>
<rect x="313" y="252.5" width="4.6" height="4.6" fill="#e2232a"/>
<circle cx="315.2" cy="267.5" r="2.6" fill="#3b53a3"/>
<text x="329.8" y="258.3" font-size="10.1" fill="#262626" stroke="#262626" stroke-width="0.25" text-anchor="start" >High melting point</text>
<text x="329.8" y="270.8" font-size="10.1" fill="#262626" stroke="#262626" stroke-width="0.25" text-anchor="start" >Low melting point</text>
<rect x="306" y="329.75" width="4.6" height="4.6" fill="#e2232a"/>
<text x="308.3" y="326.65" font-size="10.1" fill="#e2232a" stroke="#e2232a" stroke-width="0.08" text-anchor="middle" >Sc</text>
<rect x="317.82" y="325.08" width="4.6" height="4.6" fill="#e2232a"/>
<text x="320.12" y="321.98" font-size="10.1" fill="#e2232a" stroke="#e2232a" stroke-width="0.08" text-anchor="middle" >Ti</text>
<rect x="329.64" y="316.2" width="4.6" height="4.6" fill="#e2232a"/>
<text x="331.94" y="313.1" font-size="10.1" fill="#e2232a" stroke="#e2232a" stroke-width="0.08" text-anchor="middle" >V</text>
<rect x="341.46" y="316.31" width="4.6" height="4.6" fill="#e2232a"/>
<text x="343.76" y="313.21" font-size="10.1" fill="#e2232a" stroke="#e2232a" stroke-width="0.08" text-anchor="middle" >Cr</text>
<circle cx="355.58" cy="342.87" r="2.6" fill="#3b53a3"/>
<text x="355.58" y="355.87" font-size="10.1" fill="#3b53a3" stroke="#3b53a3" stroke-width="0.08" text-anchor="middle" >Mn</text>
<rect x="365.1" y="329.86" width="4.6" height="4.6" fill="#e2232a"/>
<text x="367.4" y="326.76" font-size="10.1" fill="#e2232a" stroke="#e2232a" stroke-width="0.08" text-anchor="middle" >Fe</text>
<rect x="376.92" y="331.43" width="4.6" height="4.6" fill="#e2232a"/>
<text x="379.22" y="328.33" font-size="10.1" fill="#e2232a" stroke="#e2232a" stroke-width="0.08" text-anchor="middle" >Co</text>
<rect x="388.74" y="332.9" width="4.6" height="4.6" fill="#e2232a"/>
<text x="391.04" y="329.8" font-size="10.1" fill="#e2232a" stroke="#e2232a" stroke-width="0.08" text-anchor="middle" >Ni</text>
<circle cx="402.86" cy="348.78" r="2.6" fill="#3b53a3"/>
<text x="402.86" y="361.78" font-size="10.1" fill="#3b53a3" stroke="#3b53a3" stroke-width="0.08" text-anchor="middle" >Cu</text>
<circle cx="414.68" cy="373.19" r="2.6" fill="#3b53a3"/>
<text x="414.68" y="386.19" font-size="10.1" fill="#3b53a3" stroke="#3b53a3" stroke-width="0.08" text-anchor="middle" >Zn</text>
<rect x="424.2" y="330.3" width="4.6" height="4.6" fill="#e2232a"/>
<text x="426.5" y="327.2" font-size="10.1" fill="#e2232a" stroke="#e2232a" stroke-width="0.08" text-anchor="middle" >Y</text>
<rect x="436.02" y="318.22" width="4.6" height="4.6" fill="#e2232a"/>
<text x="438.32" y="315.12" font-size="10.1" fill="#e2232a" stroke="#e2232a" stroke-width="0.08" text-anchor="middle" >Zr</text>
<rect x="447.84" y="295.39" width="4.6" height="4.6" fill="#e2232a"/>
<text x="450.14" y="292.29" font-size="10.1" fill="#e2232a" stroke="#e2232a" stroke-width="0.08" text-anchor="middle" >Nb</text>
<rect x="459.66" y="290.04" width="4.6" height="4.6" fill="#e2232a"/>
<text x="461.96" y="286.94" font-size="10.1" fill="#e2232a" stroke="#e2232a" stroke-width="0.08" text-anchor="middle" >Mo</text>
<rect x="471.48" y="307.14" width="4.6" height="4.6" fill="#e2232a"/>
<text x="473.78" y="304.04" font-size="10.1" fill="#e2232a" stroke="#e2232a" stroke-width="0.08" text-anchor="middle" >Tc</text>
<rect x="483.3" y="300.64" width="4.6" height="4.6" fill="#e2232a"/>
<text x="485.6" y="297.54" font-size="10.1" fill="#e2232a" stroke="#e2232a" stroke-width="0.08" text-anchor="middle" >Ru</text>
<rect x="495.12" y="314.22" width="4.6" height="4.6" fill="#e2232a"/>
<text x="497.42" y="311.12" font-size="10.1" fill="#e2232a" stroke="#e2232a" stroke-width="0.08" text-anchor="middle" >Rh</text>
<rect x="506.94" y="329.23" width="4.6" height="4.6" fill="#e2232a"/>
<text x="509.24" y="326.13" font-size="10.1" fill="#e2232a" stroke="#e2232a" stroke-width="0.08" text-anchor="middle" >Pd</text>
<circle cx="521.06" cy="353.29" r="2.6" fill="#3b53a3"/>
<text x="521.06" y="366.29" font-size="10.1" fill="#3b53a3" stroke="#3b53a3" stroke-width="0.08" text-anchor="middle" >Ag</text>
<circle cx="532.88" cy="376.82" r="2.6" fill="#3b53a3"/>
<text x="532.88" y="389.82" font-size="10.1" fill="#3b53a3" stroke="#3b53a3" stroke-width="0.08" text-anchor="middle" >Cd</text>
<rect x="542.4" y="304.35" width="4.6" height="4.6" fill="#e2232a"/>
<text x="544.7" y="301.25" font-size="10.1" fill="#e2232a" stroke="#e2232a" stroke-width="0.08" text-anchor="middle" >Hf</text>
<rect x="554.22" y="275.58" width="4.6" height="4.6" fill="#e2232a"/>
<text x="556.52" y="272.48" font-size="10.1" fill="#e2232a" stroke="#e2232a" stroke-width="0.08" text-anchor="middle" >Ta</text>
<rect x="566.04" y="261.01" width="4.6" height="4.6" fill="#e2232a"/>
<text x="568.34" y="257.91" font-size="10.1" fill="#e2232a" stroke="#e2232a" stroke-width="0.08" text-anchor="middle" >W</text>
<rect x="577.86" y="269.37" width="4.6" height="4.6" fill="#e2232a"/>
<text x="580.16" y="266.27" font-size="10.1" fill="#e2232a" stroke="#e2232a" stroke-width="0.08" text-anchor="middle" >Re</text>
<rect x="589.68" y="274.99" width="4.6" height="4.6" fill="#e2232a"/>
<text x="591.98" y="271.89" font-size="10.1" fill="#e2232a" stroke="#e2232a" stroke-width="0.08" text-anchor="middle" >Os</text>
<rect x="601.5" y="296.53" width="4.6" height="4.6" fill="#e2232a"/>
<text x="603.8" y="293.43" font-size="10.1" fill="#e2232a" stroke="#e2232a" stroke-width="0.08" text-anchor="middle" >Ir</text>
<rect x="613.32" y="321.41" width="4.6" height="4.6" fill="#e2232a"/>
<text x="615.62" y="318.31" font-size="10.1" fill="#e2232a" stroke="#e2232a" stroke-width="0.08" text-anchor="middle" >Pt</text>
<circle cx="627.44" cy="349.55" r="2.6" fill="#3b53a3"/>
<text x="627.44" y="362.55" font-size="10.1" fill="#3b53a3" stroke="#3b53a3" stroke-width="0.08" text-anchor="middle" >Au</text>
<circle cx="639.26" cy="390.03" r="2.6" fill="#3b53a3"/>
<text x="639.26" y="403.03" font-size="10.1" fill="#3b53a3" stroke="#3b53a3" stroke-width="0.08" text-anchor="middle" >Hg</text>
<text x="-0.5" y="474" font-size="14" font-weight="bold" fill="#000" stroke="#000" stroke-width="0.25">e</text>
<rect x="47.8" y="501.4" width="18.2" height="164.5" fill="#f2eadb"/>
<rect x="47.8" y="540.88" width="18.2" height="125.02" fill="#f0ec88"/>
<rect x="47.8" y="562.92" width="18.2" height="102.98" fill="#ebd55e"/>
<rect x="47.8" y="566.87" width="18.2" height="99.03" fill="#eabd50"/>
<rect x="47.8" y="646.65" width="18.2" height="19.25" fill="#e9a43e"/>
<rect x="47.8" y="658.83" width="18.2" height="7.07" fill="#e8852f"/>
<rect x="92" y="501.4" width="18.2" height="164.5" fill="#f2eadb"/>
<rect x="92" y="545.49" width="18.2" height="120.41" fill="#f0ec88"/>
<rect x="92" y="568.68" width="18.2" height="97.22" fill="#ebd55e"/>
<rect x="92" y="578.71" width="18.2" height="87.19" fill="#eabd50"/>
<rect x="92" y="630.7" width="18.2" height="35.2" fill="#e9a43e"/>
<rect x="92" y="645.5" width="18.2" height="20.4" fill="#e8852f"/>
<rect x="136.2" y="501.4" width="18.2" height="164.5" fill="#f2eadb"/>
<rect x="136.2" y="534.63" width="18.2" height="131.27" fill="#f0ec88"/>
<rect x="136.2" y="558.81" width="18.2" height="107.09" fill="#ebd55e"/>
<rect x="136.2" y="567.86" width="18.2" height="98.04" fill="#eabd50"/>
<rect x="136.2" y="625.76" width="18.2" height="40.14" fill="#e9a43e"/>
<rect x="136.2" y="643.69" width="18.2" height="22.21" fill="#e8852f"/>
<rect x="180.4" y="501.4" width="18.2" height="164.5" fill="#f2eadb"/>
<rect x="180.4" y="550.75" width="18.2" height="115.15" fill="#f0ec88"/>
<rect x="180.4" y="570.49" width="18.2" height="95.41" fill="#ebd55e"/>
<rect x="180.4" y="585.46" width="18.2" height="80.44" fill="#eabd50"/>
<rect x="180.4" y="645.5" width="18.2" height="20.4" fill="#e9a43e"/>
<rect x="180.4" y="655.37" width="18.2" height="10.53" fill="#e8852f"/>
<rect x="224.6" y="501.4" width="18.2" height="164.5" fill="#f2eadb"/>
<rect x="224.6" y="534.63" width="18.2" height="131.27" fill="#f0ec88"/>
<rect x="224.6" y="559.96" width="18.2" height="105.94" fill="#ebd55e"/>
<rect x="224.6" y="566.87" width="18.2" height="99.03" fill="#eabd50"/>
<rect x="224.6" y="650.6" width="18.2" height="15.3" fill="#e9a43e"/>
<rect x="224.6" y="659.32" width="18.2" height="6.58" fill="#e8852f"/>
<rect x="268.8" y="501.4" width="18.2" height="164.5" fill="#f2eadb"/>
<rect x="268.8" y="554.7" width="18.2" height="111.2" fill="#f0ec88"/>
<rect x="268.8" y="575.75" width="18.2" height="90.15" fill="#ebd55e"/>
<rect x="268.8" y="589.9" width="18.2" height="76" fill="#eabd50"/>
<rect x="268.8" y="649.45" width="18.2" height="16.45" fill="#e9a43e"/>
<rect x="268.8" y="658.66" width="18.2" height="7.24" fill="#e8852f"/>
<rect x="313" y="501.4" width="18.2" height="164.5" fill="#f2eadb"/>
<rect x="313" y="548.78" width="18.2" height="117.12" fill="#f0ec88"/>
<rect x="313" y="573.78" width="18.2" height="92.12" fill="#ebd55e"/>
<rect x="313" y="584.97" width="18.2" height="80.93" fill="#eabd50"/>
<rect x="313" y="639.09" width="18.2" height="26.81" fill="#e9a43e"/>
<rect x="313" y="651.92" width="18.2" height="13.98" fill="#e8852f"/>
<rect x="357.2" y="501.4" width="18.2" height="164.5" fill="#f2eadb"/>
<rect x="357.2" y="519.99" width="18.2" height="145.91" fill="#f0ec88"/>
<rect x="357.2" y="531.01" width="18.2" height="134.89" fill="#ebd55e"/>
<rect x="357.2" y="532.65" width="18.2" height="133.25" fill="#eabd50"/>
<rect x="357.2" y="640.4" width="18.2" height="25.5" fill="#e9a43e"/>
<rect x="357.2" y="646" width="18.2" height="19.9" fill="#e8852f"/>
<rect x="401.4" y="501.4" width="18.2" height="164.5" fill="#f2eadb"/>
<rect x="401.4" y="539.89" width="18.2" height="126.01" fill="#f0ec88"/>
<rect x="401.4" y="562.26" width="18.2" height="103.63" fill="#ebd55e"/>
<rect x="401.4" y="572.79" width="18.2" height="93.11" fill="#eabd50"/>
<rect x="401.4" y="636.45" width="18.2" height="29.45" fill="#e9a43e"/>
<rect x="401.4" y="652.74" width="18.2" height="13.16" fill="#e8852f"/>
<rect x="445.6" y="501.4" width="18.2" height="164.5" fill="#f2eadb"/>
<rect x="445.6" y="543.51" width="18.2" height="122.39" fill="#f0ec88"/>
<rect x="445.6" y="565.88" width="18.2" height="100.02" fill="#ebd55e"/>
<rect x="445.6" y="575.75" width="18.2" height="90.15" fill="#eabd50"/>
<rect x="445.6" y="633.99" width="18.2" height="31.91" fill="#e9a43e"/>
<rect x="445.6" y="647.15" width="18.2" height="18.75" fill="#e8852f"/>
<rect x="489.8" y="501.4" width="18.2" height="164.5" fill="#f2eadb"/>
<rect x="489.8" y="522.78" width="18.2" height="143.12" fill="#f0ec88"/>
<rect x="489.8" y="533.48" width="18.2" height="132.42" fill="#ebd55e"/>
<rect x="489.8" y="534.63" width="18.2" height="131.27" fill="#eabd50"/>
<rect x="489.8" y="640.57" width="18.2" height="25.33" fill="#e9a43e"/>
<rect x="489.8" y="646.49" width="18.2" height="19.41" fill="#e8852f"/>
<rect x="534" y="501.4" width="18.2" height="164.5" fill="#f2eadb"/>
<rect x="534" y="534.63" width="18.2" height="131.27" fill="#f0ec88"/>
<rect x="534" y="558.81" width="18.2" height="107.09" fill="#ebd55e"/>
<rect x="534" y="565.06" width="18.2" height="100.84" fill="#eabd50"/>
<rect x="534" y="649.45" width="18.2" height="16.45" fill="#e9a43e"/>
<rect x="534" y="661.13" width="18.2" height="4.77" fill="#e8852f"/>
<rect x="578.2" y="501.4" width="18.2" height="164.5" fill="#f2eadb"/>
<rect x="578.2" y="528.38" width="18.2" height="137.52" fill="#f0ec88"/>
<rect x="578.2" y="549.93" width="18.2" height="115.97" fill="#ebd55e"/>
<rect x="578.2" y="555.03" width="18.2" height="110.87" fill="#eabd50"/>
<rect x="578.2" y="646.82" width="18.2" height="19.08" fill="#e9a43e"/>
<rect x="578.2" y="659.32" width="18.2" height="6.58" fill="#e8852f"/>
<rect x="622.4" y="501.4" width="18.2" height="164.5" fill="#f2eadb"/>
<rect x="622.4" y="527.39" width="18.2" height="138.51" fill="#f0ec88"/>
<rect x="622.4" y="539.89" width="18.2" height="126.01" fill="#ebd55e"/>
<rect x="622.4" y="541.7" width="18.2" height="124.2" fill="#eabd50"/>
<rect x="622.4" y="643.69" width="18.2" height="22.21" fill="#e9a43e"/>
<rect x="622.4" y="656.03" width="18.2" height="9.87" fill="#e8852f"/>
<circle cx="56.9" cy="590.4" r="2.4" fill="#fff" stroke="#e8262b" stroke-width="1"/>
<circle cx="101.1" cy="660.44" r="2.4" fill="#fff" stroke="#e8262b" stroke-width="1"/>
<circle cx="145.3" cy="645.2" r="2.4" fill="#fff" stroke="#e8262b" stroke-width="1"/>
<circle cx="189.5" cy="640.67" r="2.4" fill="#fff" stroke="#e8262b" stroke-width="1"/>
<circle cx="233.7" cy="580.93" r="2.4" fill="#fff" stroke="#e8262b" stroke-width="1"/>
<circle cx="277.9" cy="641.9" r="2.4" fill="#fff" stroke="#e8262b" stroke-width="1"/>
<circle cx="322.1" cy="655.09" r="2.4" fill="#fff" stroke="#e8262b" stroke-width="1"/>
<circle cx="366.3" cy="520.36" r="2.4" fill="#fff" stroke="#e8262b" stroke-width="1"/>
<circle cx="410.5" cy="630.78" r="2.4" fill="#fff" stroke="#e8262b" stroke-width="1"/>
<circle cx="454.7" cy="643.96" r="2.4" fill="#fff" stroke="#e8262b" stroke-width="1"/>
<circle cx="498.9" cy="526.13" r="2.4" fill="#fff" stroke="#e8262b" stroke-width="1"/>
<circle cx="543.1" cy="579.69" r="2.4" fill="#fff" stroke="#e8262b" stroke-width="1"/>
<circle cx="587.3" cy="558.68" r="2.4" fill="#fff" stroke="#e8262b" stroke-width="1"/>
<circle cx="631.5" cy="536.02" r="2.4" fill="#fff" stroke="#e8262b" stroke-width="1"/>
<line x1="34.7" y1="501.4" x2="653.9" y2="501.4" stroke="#262626" stroke-width="1.3" />
<line x1="34.7" y1="666.1" x2="653.9" y2="666.1" stroke="#262626" stroke-width="1.3" />
<line x1="34.7" y1="500.75" x2="34.7" y2="666.75" stroke="#262626" stroke-width="1.3" />
<line x1="653.9" y1="500.75" x2="653.9" y2="666.75" stroke="#dc2a2e" stroke-width="1.2" />
<line x1="31.7" y1="665.9" x2="34.7" y2="665.9" stroke="#262626" stroke-width="1.1" />
<text transform="translate(28.6,668.6) scale(0.95,1.1)" font-size="9" fill="#262626" stroke="#262626" stroke-width="0.12" text-anchor="end">0</text>
<line x1="31.7" y1="633" x2="34.7" y2="633" stroke="#262626" stroke-width="1.1" />
<text transform="translate(28.6,635.7) scale(0.95,1.1)" font-size="9" fill="#262626" stroke="#262626" stroke-width="0.12" text-anchor="end">20</text>
<line x1="31.7" y1="600.1" x2="34.7" y2="600.1" stroke="#262626" stroke-width="1.1" />
<text transform="translate(28.6,602.8) scale(0.95,1.1)" font-size="9" fill="#262626" stroke="#262626" stroke-width="0.12" text-anchor="end">40</text>
<line x1="31.7" y1="567.2" x2="34.7" y2="567.2" stroke="#262626" stroke-width="1.1" />
<text transform="translate(28.6,569.9) scale(0.95,1.1)" font-size="9" fill="#262626" stroke="#262626" stroke-width="0.12" text-anchor="end">60</text>
<line x1="31.7" y1="534.3" x2="34.7" y2="534.3" stroke="#262626" stroke-width="1.1" />
<text transform="translate(28.6,537) scale(0.95,1.1)" font-size="9" fill="#262626" stroke="#262626" stroke-width="0.12" text-anchor="end">80</text>
<line x1="31.7" y1="501.4" x2="34.7" y2="501.4" stroke="#262626" stroke-width="1.1" />
<text transform="translate(28.6,504.1) scale(0.95,1.1)" font-size="9" fill="#262626" stroke="#262626" stroke-width="0.12" text-anchor="end">100</text>
<line x1="32.9" y1="649.45" x2="34.7" y2="649.45" stroke="#262626" stroke-width="1" />
<line x1="32.9" y1="616.55" x2="34.7" y2="616.55" stroke="#262626" stroke-width="1" />
<line x1="32.9" y1="583.65" x2="34.7" y2="583.65" stroke="#262626" stroke-width="1" />
<line x1="32.9" y1="550.75" x2="34.7" y2="550.75" stroke="#262626" stroke-width="1" />
<line x1="32.9" y1="517.85" x2="34.7" y2="517.85" stroke="#262626" stroke-width="1" />
<line x1="653.9" y1="665.8" x2="657.4" y2="665.8" stroke="#dc2a2e" stroke-width="1.1" />
<text transform="translate(660.5,668.5) scale(0.95,1.1)" font-size="9" fill="#e8262b" stroke="#e8262b" stroke-width="0.12" text-anchor="start">30</text>
<line x1="653.9" y1="624.6" x2="657.4" y2="624.6" stroke="#dc2a2e" stroke-width="1.1" />
<text transform="translate(660.5,627.3) scale(0.95,1.1)" font-size="9" fill="#e8262b" stroke="#e8262b" stroke-width="0.12" text-anchor="start">40</text>
<line x1="653.9" y1="583.4" x2="657.4" y2="583.4" stroke="#dc2a2e" stroke-width="1.1" />
<text transform="translate(660.5,586.1) scale(0.95,1.1)" font-size="9" fill="#e8262b" stroke="#e8262b" stroke-width="0.12" text-anchor="start">50</text>
<line x1="653.9" y1="542.2" x2="657.4" y2="542.2" stroke="#dc2a2e" stroke-width="1.1" />
<text transform="translate(660.5,544.9) scale(0.95,1.1)" font-size="9" fill="#e8262b" stroke="#e8262b" stroke-width="0.12" text-anchor="start">60</text>
<line x1="653.9" y1="501" x2="657.4" y2="501" stroke="#dc2a2e" stroke-width="1.1" />
<text transform="translate(660.5,503.7) scale(0.95,1.1)" font-size="9" fill="#e8262b" stroke="#e8262b" stroke-width="0.12" text-anchor="start">70</text>
<line x1="653.9" y1="645.2" x2="655.9" y2="645.2" stroke="#dc2a2e" stroke-width="1" />
<line x1="653.9" y1="604" x2="655.9" y2="604" stroke="#dc2a2e" stroke-width="1" />
<line x1="653.9" y1="562.8" x2="655.9" y2="562.8" stroke="#dc2a2e" stroke-width="1" />
<line x1="653.9" y1="521.6" x2="655.9" y2="521.6" stroke="#dc2a2e" stroke-width="1" />
<line x1="56.9" y1="666.1" x2="56.9" y2="669.6" stroke="#262626" stroke-width="1.1" />
<text x="56.9" y="681.6" font-size="11" fill="#262626" stroke="#262626" stroke-width="0.25" text-anchor="middle" >W</text>
<line x1="101.1" y1="666.1" x2="101.1" y2="669.6" stroke="#262626" stroke-width="1.1" />
<text x="101.1" y="681.6" font-size="11" fill="#262626" stroke="#262626" stroke-width="0.25" text-anchor="middle" >Ti</text>
<line x1="145.3" y1="666.1" x2="145.3" y2="669.6" stroke="#262626" stroke-width="1.1" />
<text x="145.3" y="681.6" font-size="11" fill="#262626" stroke="#262626" stroke-width="0.25" text-anchor="middle" >V</text>
<line x1="189.5" y1="666.1" x2="189.5" y2="669.6" stroke="#262626" stroke-width="1.1" />
<text x="189.5" y="681.6" font-size="11" fill="#262626" stroke="#262626" stroke-width="0.25" text-anchor="middle" >Fe</text>
<line x1="233.7" y1="666.1" x2="233.7" y2="669.6" stroke="#262626" stroke-width="1.1" />
<text x="233.7" y="681.6" font-size="11" fill="#262626" stroke="#262626" stroke-width="0.25" text-anchor="middle" >Co</text>
<line x1="277.9" y1="666.1" x2="277.9" y2="669.6" stroke="#262626" stroke-width="1.1" />
<text x="277.9" y="681.6" font-size="11" fill="#262626" stroke="#262626" stroke-width="0.25" text-anchor="middle" >Ni</text>
<line x1="322.1" y1="666.1" x2="322.1" y2="669.6" stroke="#262626" stroke-width="1.1" />
<text x="322.1" y="681.6" font-size="11" fill="#262626" stroke="#262626" stroke-width="0.25" text-anchor="middle" >Zr</text>
<line x1="366.3" y1="666.1" x2="366.3" y2="669.6" stroke="#262626" stroke-width="1.1" />
<text x="366.3" y="681.6" font-size="11" fill="#262626" stroke="#262626" stroke-width="0.25" text-anchor="middle" >Nb</text>
<line x1="410.5" y1="666.1" x2="410.5" y2="669.6" stroke="#262626" stroke-width="1.1" />
<text x="410.5" y="681.6" font-size="11" fill="#262626" stroke="#262626" stroke-width="0.25" text-anchor="middle" >Mo</text>
<line x1="454.7" y1="666.1" x2="454.7" y2="669.6" stroke="#262626" stroke-width="1.1" />
<text x="454.7" y="681.6" font-size="11" fill="#262626" stroke="#262626" stroke-width="0.25" text-anchor="middle" >Pd</text>
<line x1="498.9" y1="666.1" x2="498.9" y2="669.6" stroke="#262626" stroke-width="1.1" />
<text x="498.9" y="681.6" font-size="11" fill="#262626" stroke="#262626" stroke-width="0.25" text-anchor="middle" >Ta</text>
<line x1="543.1" y1="666.1" x2="543.1" y2="669.6" stroke="#262626" stroke-width="1.1" />
<text x="543.1" y="681.6" font-size="11" fill="#262626" stroke="#262626" stroke-width="0.25" text-anchor="middle" >Re</text>
<line x1="587.3" y1="666.1" x2="587.3" y2="669.6" stroke="#262626" stroke-width="1.1" />
<text x="587.3" y="681.6" font-size="11" fill="#262626" stroke="#262626" stroke-width="0.25" text-anchor="middle" >Ir</text>
<line x1="631.5" y1="666.1" x2="631.5" y2="669.6" stroke="#262626" stroke-width="1.1" />
<text x="631.5" y="681.6" font-size="11" fill="#262626" stroke="#262626" stroke-width="0.25" text-anchor="middle" >Pt</text>
<text transform="translate(9.8,583.6) rotate(-90)" font-size="11.1" fill="#262626" stroke="#262626" stroke-width="0.25" text-anchor="middle">Product distribution (%)</text>
<text transform="translate(676.3,584.1) rotate(90)" font-size="10.9" fill="#e8262b" stroke="#e8262b" stroke-width="0.08" text-anchor="middle">Ethylene selectively (%)</text>
<rect x="133.3" y="478" width="24.5" height="12" fill="#e8852f"/>
<text x="160.8" y="488" font-size="11" fill="#262626" stroke="#262626" stroke-width="0.25" text-anchor="start" >CH<tspan font-size="7.5" dy="2.5" stroke-width="0.1">4</tspan></text>
<rect x="196" y="478" width="24.5" height="12" fill="#e9a43e"/>
<text x="223.5" y="488" font-size="11" fill="#262626" stroke="#262626" stroke-width="0.25" text-anchor="start" >C<tspan font-size="7.5" dy="2.5" stroke-width="0.1">2</tspan><tspan dy="-2.5">H</tspan><tspan font-size="7.5" dy="2.5" stroke-width="0.1">6</tspan></text>
<rect x="262.1" y="478" width="24.5" height="12" fill="#eabd50"/>
<text x="289.6" y="488" font-size="11" fill="#262626" stroke="#262626" stroke-width="0.25" text-anchor="start" >C<tspan font-size="7.5" dy="2.5" stroke-width="0.1">2</tspan><tspan dy="-2.5">H</tspan><tspan font-size="7.5" dy="2.5" stroke-width="0.1">4</tspan></text>
<rect x="328.4" y="478" width="24.5" height="12" fill="#ebd55e"/>
<text x="355.9" y="488" font-size="11" fill="#262626" stroke="#262626" stroke-width="0.25" text-anchor="start" >C<tspan font-size="7.5" dy="2.5" stroke-width="0.1">3</tspan><tspan dy="-2.5">H</tspan><tspan font-size="7.5" dy="2.5" stroke-width="0.1">8</tspan></text>
<rect x="395" y="478" width="24.5" height="12" fill="#f0ec88"/>
<text x="422.5" y="488" font-size="11" fill="#262626" stroke="#262626" stroke-width="0.25" text-anchor="start" >C<tspan font-size="7.5" dy="2.5" stroke-width="0.1">3</tspan><tspan dy="-2.5">H</tspan><tspan font-size="7.5" dy="2.5" stroke-width="0.1">6</tspan></text>
<rect x="461.2" y="478" width="24.5" height="12" fill="#f2eadb"/>
<text x="488.7" y="488" font-size="11" fill="#262626" stroke="#262626" stroke-width="0.25" text-anchor="start" >Others</text>
</svg></body></html>
